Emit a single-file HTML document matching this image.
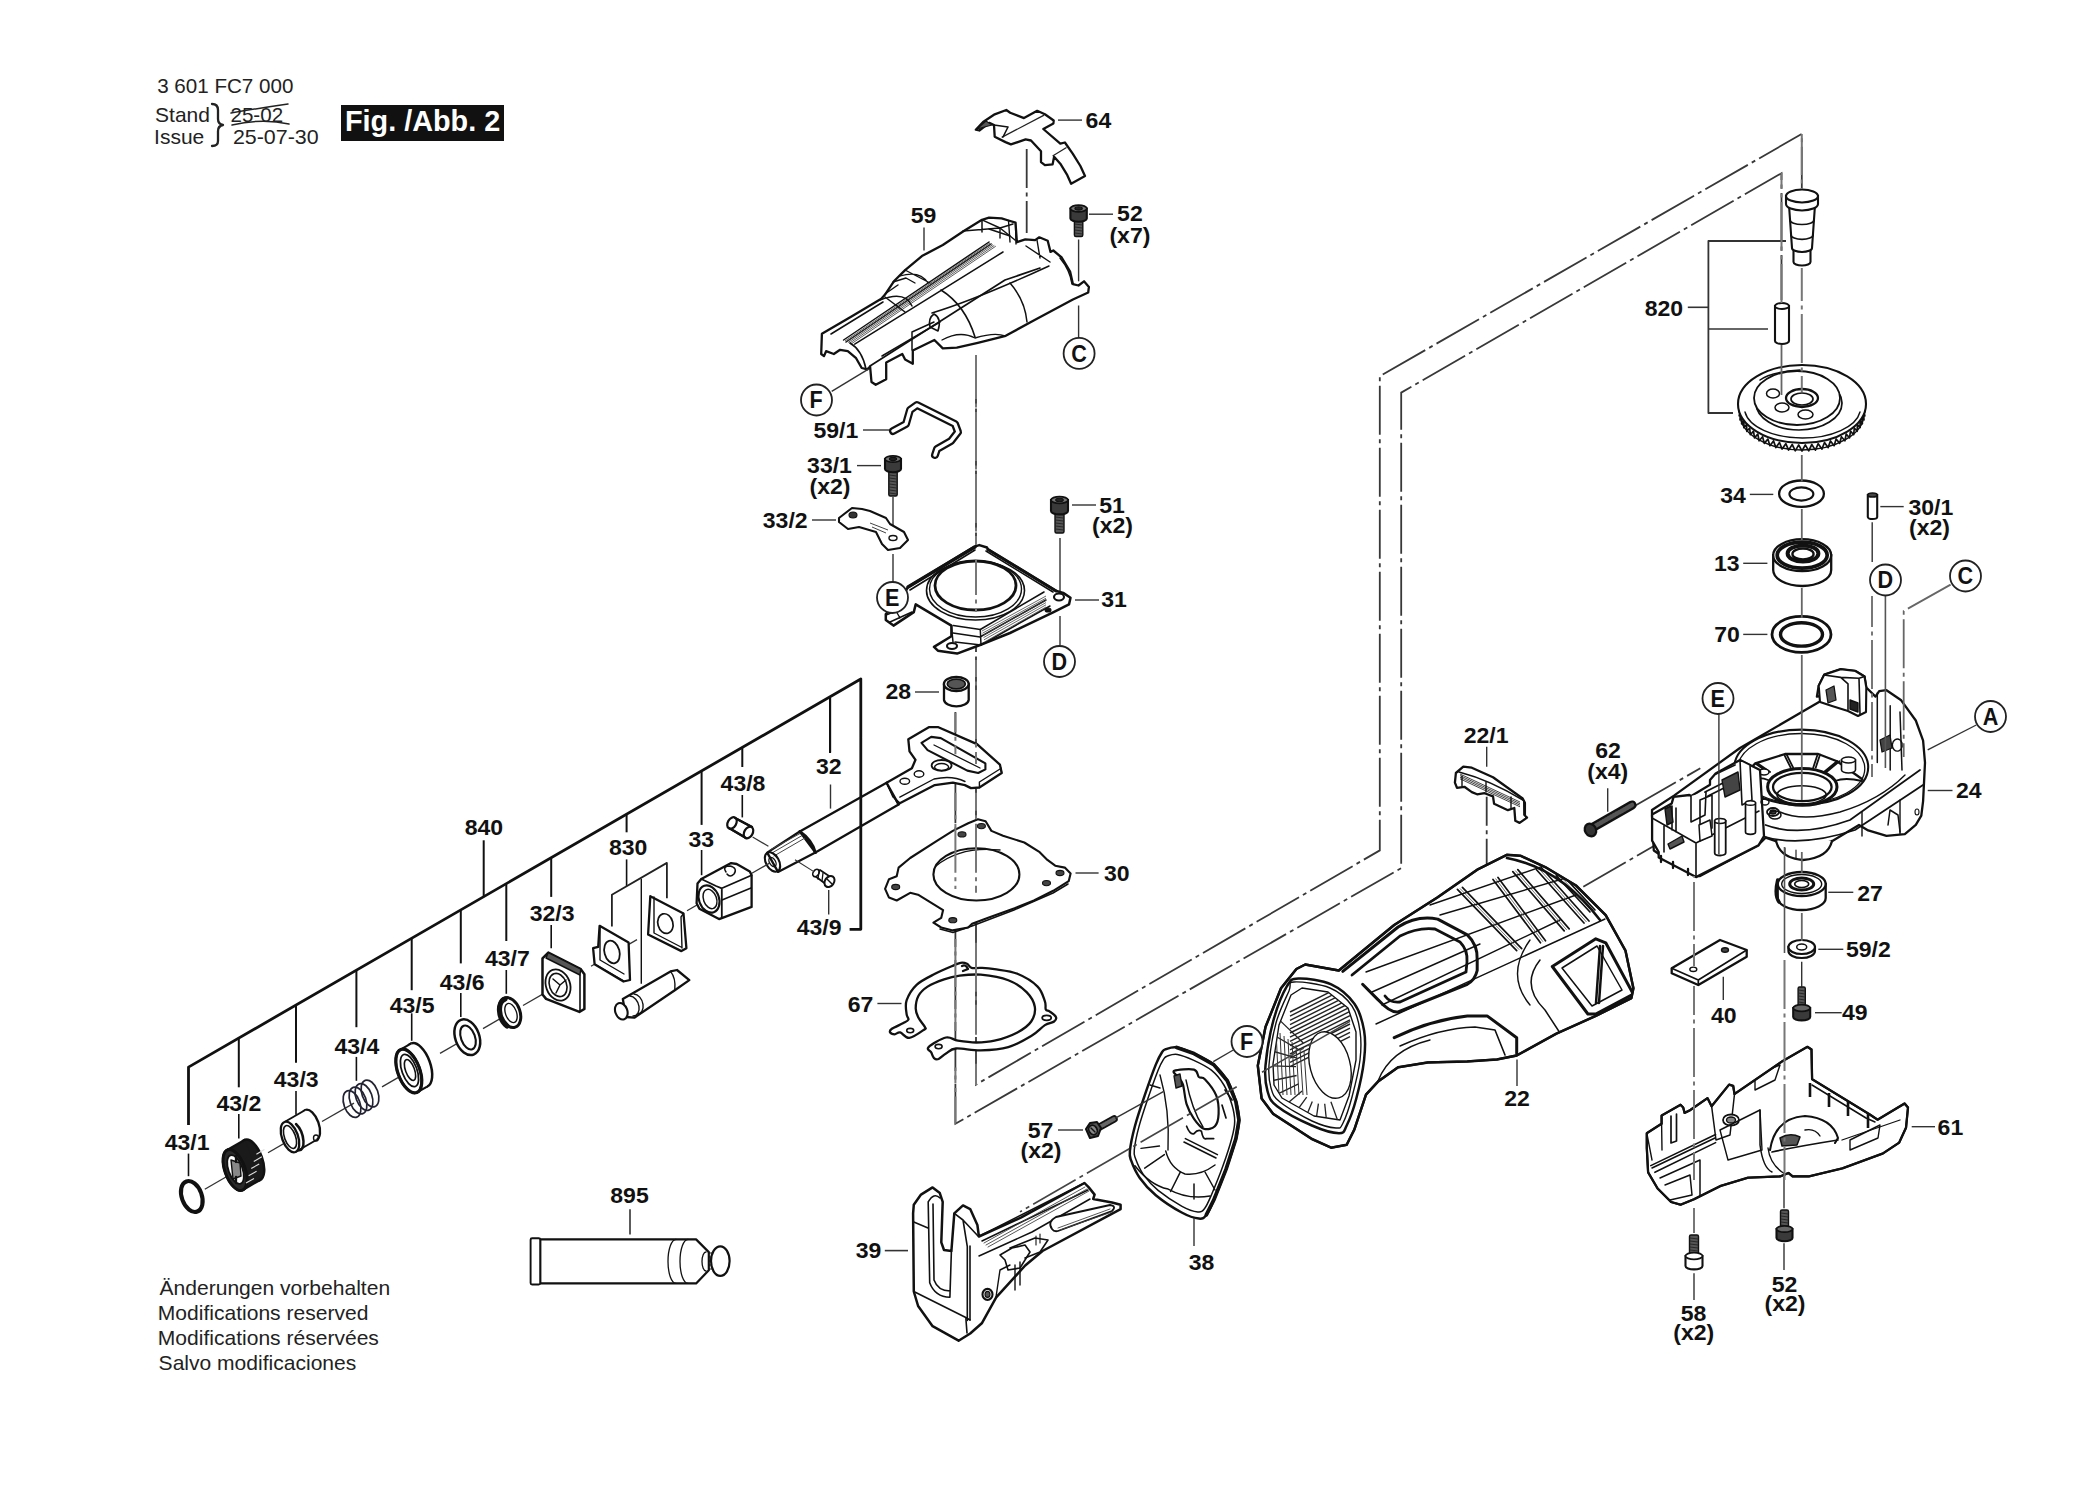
<!DOCTYPE html>
<html><head><meta charset="utf-8"><style>html,body{margin:0;padding:0;background:#fff;}svg{display:block}</style></head>
<body><svg width="2074" height="1501" viewBox="0 0 2074 1501">
<rect width="2074" height="1501" fill="#fff"/>
<path d="M976,355 L976,1084.6 L1379.8,850.4 L1379.8,376.2 L1801.8,133.9 L1801.8,190" stroke="#383838" stroke-width="1.8" fill="none" stroke-dasharray="49 4.5 4 4.5" stroke-dashoffset="0"/>
<path d="M955.4,712 L955.4,1123.8 L1401.2,868.1 L1401.2,392.6 L1781.5,173.2 L1781.5,300" stroke="#383838" stroke-width="1.8" fill="none" stroke-dasharray="49 4.5 4 4.5" stroke-dashoffset="0"/>
<path d="M1583.3,886.7 L1700.3,819.1" stroke="#383838" stroke-width="1.8" fill="none" stroke-dasharray="49 4.5 4 4.5" stroke-dashoffset="0"/>
<path d="M1633.3,806.7 L1700.3,768.3" stroke="#383838" stroke-width="1.8" fill="none" stroke-dasharray="49 4.5 4 4.5" stroke-dashoffset="0"/>
<path d="M893,431 L906,424 L910,410 L917,405 L955,424 L958,432 L951,441 L937,449 L935,455" stroke="#111" stroke-width="8" fill="none" stroke-linejoin="round" stroke-linecap="round"/>
<path d="M893,431 L906,424 L910,410 L917,405 L955,424 L958,432 L951,441 L937,449 L935,455" stroke="#fff" stroke-width="3.5" fill="none" stroke-linejoin="round" stroke-linecap="round"/>
<line x1="863" y1="430" x2="889" y2="430" stroke="#333" stroke-width="1.4"/>
<line x1="857" y1="465.6" x2="881" y2="465.6" stroke="#333" stroke-width="1.4"/>
<rect x="888.8" y="469" width="8.4" height="27" rx="1.5" fill="#555" stroke="#111" stroke-width="1.4"/>
<line x1="889.3" y1="472" x2="896.7" y2="473" stroke="#222" stroke-width="0.9"/>
<line x1="889.3" y1="475" x2="896.7" y2="476" stroke="#222" stroke-width="0.9"/>
<line x1="889.3" y1="478" x2="896.7" y2="479" stroke="#222" stroke-width="0.9"/>
<line x1="889.3" y1="481" x2="896.7" y2="482" stroke="#222" stroke-width="0.9"/>
<line x1="889.3" y1="484" x2="896.7" y2="485" stroke="#222" stroke-width="0.9"/>
<line x1="889.3" y1="487" x2="896.7" y2="488" stroke="#222" stroke-width="0.9"/>
<line x1="889.3" y1="490" x2="896.7" y2="491" stroke="#222" stroke-width="0.9"/>
<line x1="889.3" y1="493" x2="896.7" y2="494" stroke="#222" stroke-width="0.9"/>
<path d="M885,459 L885,469 A8,3.2 0 0,0 901,469 L901,459 Z" fill="#3a3a3a" stroke="#111" stroke-width="2.1"/>
<ellipse cx="893" cy="459" rx="8" ry="3.2" stroke="#111" stroke-width="1.8" fill="#777"/>
<ellipse cx="893" cy="459" rx="3.6" ry="1.6" stroke="#111" stroke-width="1.1" fill="#222"/>
<line x1="893" y1="497" x2="893" y2="540" stroke="#333" stroke-width="1.4"/>
<line x1="893" y1="554" x2="893" y2="582" stroke="#333" stroke-width="1.4"/>
<line x1="812" y1="520" x2="836" y2="520" stroke="#333" stroke-width="1.4"/>
<path d="M839,518 L852,508 L862,509 L870,511 L886,518 L890,524 L904,532 L908,540 L900,548 L888,550 L882,544 L876,532 L859,527 L848,529 L839,522 Z" stroke="#111" stroke-width="2.1" fill="#fff" stroke-linejoin="round"/>
<ellipse cx="853" cy="515" rx="4" ry="3" stroke="#111" stroke-width="1.1" fill="#333"/>
<ellipse cx="893" cy="538" rx="4" ry="2.5" stroke="#111" stroke-width="1.4" fill="none"/>
<line x1="870" y1="523" x2="888" y2="530" stroke="#444" stroke-width="1"/>
<line x1="872" y1="527" x2="886" y2="533" stroke="#444" stroke-width="1"/>
<line x1="1072" y1="505" x2="1096" y2="505" stroke="#333" stroke-width="1.4"/>
<rect x="1055" y="511" width="9" height="22" rx="1.5" fill="#555" stroke="#111" stroke-width="1.4"/>
<line x1="1055.5" y1="514" x2="1063.5" y2="515" stroke="#222" stroke-width="0.9"/>
<line x1="1055.5" y1="517" x2="1063.5" y2="518" stroke="#222" stroke-width="0.9"/>
<line x1="1055.5" y1="520" x2="1063.5" y2="521" stroke="#222" stroke-width="0.9"/>
<line x1="1055.5" y1="523" x2="1063.5" y2="524" stroke="#222" stroke-width="0.9"/>
<line x1="1055.5" y1="526" x2="1063.5" y2="527" stroke="#222" stroke-width="0.9"/>
<line x1="1055.5" y1="529" x2="1063.5" y2="530" stroke="#222" stroke-width="0.9"/>
<path d="M1051,500 L1051,511 A8.5,3.4 0 0,0 1068,511 L1068,500 Z" fill="#3a3a3a" stroke="#111" stroke-width="2.1"/>
<ellipse cx="1059.5" cy="500" rx="8.5" ry="3.4" stroke="#111" stroke-width="1.8" fill="#777"/>
<ellipse cx="1059.5" cy="500" rx="3.8" ry="1.7" stroke="#111" stroke-width="1.1" fill="#222"/>
<line x1="1060" y1="538" x2="1060" y2="592" stroke="#333" stroke-width="1.4"/>
<line x1="1060" y1="616" x2="1060" y2="645" stroke="#333" stroke-width="1.4"/>
<line x1="1075" y1="600" x2="1099" y2="600" stroke="#333" stroke-width="1.4"/>
<path d="M908,587.1 L974.5,546.6 L979.3,545.1 L987,547.5 L988,549.5 L1056.5,591 L1063.2,592.9 L1070.5,597.7 L1069,604.4 L1053.6,612.1 L1010,633 L980,645 L957.1,653.6 L937.9,650.7 L934,646.9 L951.4,636.3 L951.4,625.6 L915.7,604.4 L913.8,612.1 L893.5,625.6 L885.8,619.9 L885.8,614.1 L900,600 Z" stroke="#111" stroke-width="2.5" fill="#fff" stroke-linejoin="round"/>
<path d="M910,590 L975,550 M986,551 L1053,592" stroke="#111" stroke-width="1.6" fill="none" stroke-linejoin="round" stroke-linecap="round" />
<path d="M908,587 L975,547" stroke="#111" stroke-width="3.4" fill="none" stroke-linejoin="round" stroke-linecap="round" />
<path d="M988,549.5 L1056,591" stroke="#111" stroke-width="3" fill="none" stroke-linejoin="round" stroke-linecap="round" />
<ellipse cx="975.5" cy="590.5" rx="49" ry="29.5" stroke="#111" stroke-width="1.6" fill="none"/>
<ellipse cx="975.5" cy="589" rx="46" ry="28" stroke="#111" stroke-width="1.4" fill="none"/>
<ellipse cx="975.5" cy="585.5" rx="40.5" ry="24.5" stroke="#111" stroke-width="2.8" fill="#fff"/>
<path d="M953.3,625.6 L980.3,629.5 L1044,592 M953,633 L980,637 L1046,600 M955,642 L981,645 L1050,606" stroke="#111" stroke-width="1.5" fill="none" stroke-linejoin="round" stroke-linecap="round" />
<line x1="982" y1="631" x2="1046" y2="596" stroke="#444" stroke-width="0.8"/>
<line x1="982.5" y1="633.2" x2="1046" y2="598.2" stroke="#444" stroke-width="0.8"/>
<line x1="983" y1="635.4" x2="1046" y2="600.4" stroke="#444" stroke-width="0.8"/>
<line x1="983.5" y1="637.6" x2="1046" y2="602.6" stroke="#444" stroke-width="0.8"/>
<line x1="984" y1="639.8" x2="1046" y2="604.8" stroke="#444" stroke-width="0.8"/>
<line x1="984.5" y1="642" x2="1046" y2="607" stroke="#444" stroke-width="0.8"/>
<path d="M980.3,629.5 L981,645 M951.4,625.6 L953,642" stroke="#111" stroke-width="1.5" fill="none" stroke-linejoin="round" stroke-linecap="round" />
<ellipse cx="1059" cy="597" rx="5" ry="3.5" stroke="#111" stroke-width="2.1" fill="#fff"/>
<ellipse cx="1048" cy="610" rx="3" ry="2" stroke="#111" stroke-width="1.1" fill="#111"/>
<ellipse cx="952" cy="646" rx="5" ry="3" stroke="#111" stroke-width="2.1" fill="#fff"/>
<path d="M886,615 L896,611 L900,618 M890,622 L912,612" stroke="#111" stroke-width="1.4" fill="none" stroke-linejoin="round" stroke-linecap="round" />
<path d="M975.8,129.7 L983.1,122 L994.7,114.3 L1006.3,110 L1010.2,112.7 L1024,118.1 L1037.2,110.8 L1044.9,114.3 L1053.7,120.5 L1053.4,123.5 L1043.3,129 L1060.3,143.6 L1064.9,142.5 L1072.7,153.6 L1080.4,166 L1085,176 L1071.1,183.7 L1067.3,175.2 L1060.3,163.7 L1054.1,156.7 L1052.6,164.4 L1044.9,165.2 L1041,162.1 L1041,151.3 L1031,140.5 L1025.6,139.4 L1010.9,144.4 L1005.5,142.1 L994.7,136.7 L994,125.1 L989.3,122.8 L979.3,130.5 Z" stroke="#111" stroke-width="2.3" fill="#fff" stroke-linejoin="round"/>
<line x1="1001.7" y1="137.4" x2="1044.1" y2="115.1" stroke="#222" stroke-width="1.3"/>
<line x1="1052.6" y1="156" x2="1066.5" y2="147.5" stroke="#222" stroke-width="1.3"/>
<path d="M977,129 L986,121 L992,125 Z" stroke="#111" stroke-width="1.1" fill="#555" stroke-linejoin="round" stroke-linecap="round" />
<path d="M994,125 L1008,127 L1003,137" stroke="#111" stroke-width="1.6" fill="none" stroke-linejoin="round" stroke-linecap="round" />
<line x1="1058" y1="120.1" x2="1082" y2="120.1" stroke="#333" stroke-width="1.4"/>
<path d="M1026.7,149 L1026.7,233" stroke="#383838" stroke-width="1.8" fill="none" stroke-dasharray="49 4.5 4 4.5" stroke-dashoffset="10"/>
<path d="M821.9,333.7 L821.2,354 L824,356.1 L826.1,351.2 L833.8,354 L840.1,349.8 L847.8,351.2 L856.1,358.2 L861.7,368 L867.3,369.4 L870.1,366.6 L871.5,382 L875.7,384.8 L886.2,379.2 L886.2,362.4 L902.3,354 L905.1,359.6 L912.8,363.8 L912.8,350.5 L934.4,340 L942.8,348.4 L956.8,347.7 L977.8,342.8 L1005.7,335.8 L1033.7,320.5 L1072.9,299.5 L1088.2,292.5 L1088.9,286.9 L1084,281.3 L1078.5,285.5 L1072.9,284.1 L1070.1,271.5 L1061.7,257.5 L1053.3,250.5 L1050.5,251.9 L1047.7,240.8 L1039.3,237.3 L1035.1,240.1 L1025.3,239.4 L1016.9,242.2 L1015.5,222.6 L1008.5,220.5 L1001.6,218.4 L989,217.7 L982,219.8 L963.8,231 L942.8,245 L921.9,256.1 L905.1,270.1 L893.9,281.3 L885.5,293.9 L881.3,298.8 L851.9,316.3 Z" stroke="#111" stroke-width="2.3" fill="#fff" stroke-linejoin="round"/>
<path d="M831,334 L883,302 M843.6,340 L989,242 M846,342 L991,244 M854.7,344.2 L1003,252" stroke="#111" stroke-width="1.5" fill="none" stroke-linejoin="round" stroke-linecap="round" />
<line x1="845" y1="341" x2="990" y2="243" stroke="#333" stroke-width="0.8"/>
<line x1="846.4" y1="341.8" x2="991.4" y2="243.8" stroke="#333" stroke-width="0.8"/>
<line x1="847.9" y1="342.6" x2="992.9" y2="244.6" stroke="#333" stroke-width="0.8"/>
<line x1="849.3" y1="343.4" x2="994.3" y2="245.4" stroke="#333" stroke-width="0.8"/>
<line x1="850.8" y1="344.2" x2="995.8" y2="246.2" stroke="#333" stroke-width="0.8"/>
<path d="M880,300 Q905,290 912,306 M885,297 L905,312" stroke="#111" stroke-width="1.5" fill="none" stroke-linejoin="round" stroke-linecap="round" />
<path d="M963,231 L1000,228 L1015,240 M982,219.8 L982,232" stroke="#111" stroke-width="1.5" fill="none" stroke-linejoin="round" stroke-linecap="round" />
<path d="M866,369 Q862,350 850,343" stroke="#111" stroke-width="1.6" fill="none" stroke-linejoin="round" stroke-linecap="round" />
<path d="M870,366 L1005,280 L1040,268" stroke="#111" stroke-width="1.7" fill="none" stroke-linejoin="round" stroke-linecap="round" />
<path d="M882,356 L940,322 M912,350 L912,332 L934,322" stroke="#111" stroke-width="1.5" fill="none" stroke-linejoin="round" stroke-linecap="round" />
<path d="M938,331 Q942,318 934,314 Q928,318 930,327 Z" stroke="#111" stroke-width="1.6" fill="none" stroke-linejoin="round" stroke-linecap="round" />
<path d="M932,313 Q975,300 1049,266" stroke="#111" stroke-width="1.5" fill="none" stroke-linejoin="round" stroke-linecap="round" />
<path d="M941,290 Q965,305 975,337" stroke="#111" stroke-width="1.6" fill="none" stroke-linejoin="round" stroke-linecap="round" />
<path d="M1010,283 Q1025,300 1027,322" stroke="#111" stroke-width="1.5" fill="none" stroke-linejoin="round" stroke-linecap="round" />
<path d="M942,340 Q960,330 975,338 Q995,332 1005,336" stroke="#111" stroke-width="1.4" fill="none" stroke-linejoin="round" stroke-linecap="round" />
<path d="M885,294 Q895,287 898,285 M893,282 L906,278 L915,283" stroke="#111" stroke-width="1.4" fill="none" stroke-linejoin="round" stroke-linecap="round" />
<path d="M900,276 Q920,270 928,283 M905,270 L930,283" stroke="#111" stroke-width="1.3" fill="none" stroke-linejoin="round" stroke-linecap="round" />
<path d="M982,219.8 L1000,228 L1013,224 M1000,228 L1000,238 M989,229 L1010,236" stroke="#111" stroke-width="1.4" fill="none" stroke-linejoin="round" stroke-linecap="round" />
<path d="M1015.5,222.6 L1016,244 M1008.5,220.5 L1010,242" stroke="#111" stroke-width="1.4" fill="none" stroke-linejoin="round" stroke-linecap="round" />
<path d="M1026,246 L1050,262 M1037,240 L1040,258" stroke="#111" stroke-width="1.4" fill="none" stroke-linejoin="round" stroke-linecap="round" />
<path d="M1060,258 Q1070,270 1072,284" stroke="#111" stroke-width="1.5" fill="none" stroke-linejoin="round" stroke-linecap="round" />
<line x1="924" y1="227.4" x2="924" y2="250.5" stroke="#333" stroke-width="1.4"/>
<line x1="831.7" y1="391.3" x2="868" y2="369.3" stroke="#333" stroke-width="1.4"/>
<rect x="1074.4" y="218.5" width="8.4" height="18" rx="1.5" fill="#555" stroke="#111" stroke-width="1.4"/>
<line x1="1074.9" y1="221" x2="1082.3" y2="222" stroke="#222" stroke-width="0.9"/>
<line x1="1074.9" y1="224" x2="1082.3" y2="225" stroke="#222" stroke-width="0.9"/>
<line x1="1074.9" y1="227" x2="1082.3" y2="228" stroke="#222" stroke-width="0.9"/>
<line x1="1074.9" y1="230" x2="1082.3" y2="231" stroke="#222" stroke-width="0.9"/>
<line x1="1074.9" y1="233" x2="1082.3" y2="234" stroke="#222" stroke-width="0.9"/>
<path d="M1070.4,208.5 L1070.4,218.5 A8.2,3.3 0 0,0 1086.8,218.5 L1086.8,208.5 Z" fill="#3a3a3a" stroke="#111" stroke-width="2.1"/>
<ellipse cx="1078.6" cy="208.5" rx="8.2" ry="3.3" stroke="#111" stroke-width="1.8" fill="#777"/>
<ellipse cx="1078.6" cy="208.5" rx="3.7" ry="1.6" stroke="#111" stroke-width="1.1" fill="#222"/>
<line x1="1089" y1="214.2" x2="1113" y2="214.2" stroke="#333" stroke-width="1.4"/>
<line x1="1078.6" y1="239.5" x2="1078.6" y2="281.3" stroke="#333" stroke-width="1.4"/>
<line x1="1078.6" y1="305.5" x2="1078.6" y2="338.5" stroke="#333" stroke-width="1.4"/>
<path d="M885.1,888.9 L889,879.2 L896.7,876.3 L898.6,867.6 L910.2,858 L937.3,840.6 L952.8,830.9 L968.2,823.2 L977.9,819.3 L985.6,821.3 L991.4,830.9 L1003,835.7 L1024.3,842.5 L1039.7,852.2 L1047.4,859.9 L1055.2,865.7 L1064.8,867.6 L1070.6,873.4 L1068.7,881.2 L1053.2,890.8 L1033.9,900.5 L1014.6,908.2 L987.5,917.9 L972.1,923.7 L968.2,927.5 L952.8,930.4 L941.2,927.5 L933.4,922.7 L941.2,917.9 L943.1,910.1 L918,894.7 L910.2,892.8 L896.7,900.5 L889,897.6 Z" stroke="#111" stroke-width="2.1" fill="#fff" stroke-linejoin="round"/>
<path d="M1068,884 L1053,893 L1014,910 L972,926 L953,932.5 L940,929" stroke="#111" stroke-width="1.5" fill="none" stroke-linejoin="round" stroke-linecap="round" />
<ellipse cx="976.4" cy="874.4" rx="43" ry="26.1" stroke="#111" stroke-width="2.1" fill="none"/>
<path d="M936,866 Q960,846 1000,850" stroke="#111" stroke-width="1.4" fill="none" stroke-linejoin="round" stroke-linecap="round" />
<ellipse cx="895.7" cy="887" rx="4" ry="2.6" stroke="#111" stroke-width="1.1" fill="#444"/>
<ellipse cx="952.8" cy="920.2" rx="4" ry="2.6" stroke="#111" stroke-width="1.1" fill="#444"/>
<ellipse cx="1046.5" cy="883.1" rx="4" ry="2.6" stroke="#111" stroke-width="1.1" fill="#444"/>
<ellipse cx="1060" cy="873" rx="4" ry="2.6" stroke="#111" stroke-width="1.1" fill="#444"/>
<ellipse cx="962" cy="834.4" rx="4" ry="2.6" stroke="#111" stroke-width="1.1" fill="#444"/>
<ellipse cx="981.4" cy="826.1" rx="4" ry="2.6" stroke="#111" stroke-width="1.1" fill="#444"/>
<line x1="1075.5" y1="873" x2="1098.6" y2="873" stroke="#333" stroke-width="1.4"/>
<path d="M953.3,965.6 C949.0,967.4 941.1,970.6 935.0,973.8 C928.9,977.0 921.3,980.4 916.6,984.8 C911.9,989.2 908.3,995.5 906.6,1000.4 C904.9,1005.3 906.3,1010.9 906.6,1014.1 C906.9,1017.3 909.0,1018.1 908.4,1019.6 C907.8,1021.1 905.6,1021.8 902.9,1023.3 C900.1,1024.8 894.0,1027.3 891.9,1028.8 C889.8,1030.3 889.6,1031.5 890.1,1032.4 C890.6,1033.3 893.0,1034.3 894.7,1034.3 C896.4,1034.3 897.8,1031.8 900.2,1032.4 C902.6,1033.0 905.3,1038.4 909.3,1037.9 C913.3,1037.5 921.4,1031.5 924.0,1029.7 C926.6,1027.9 925.8,1029.0 924.9,1027.0 C924.0,1025.0 920.0,1020.9 918.5,1017.8 C917.0,1014.7 915.7,1012.3 915.7,1008.6 C915.7,1004.9 916.5,999.5 918.5,995.8 C920.5,992.1 923.3,989.4 927.6,986.6 C931.9,983.9 938.8,981.1 944.1,979.3 C949.5,977.5 953.6,976.5 959.7,975.7 C965.8,974.9 972.7,974.0 980.8,974.7 C988.9,975.5 1000.7,977.3 1008.3,980.2 C1015.9,983.1 1022.2,987.7 1026.6,992.1 C1031.0,996.5 1034.0,1001.9 1034.8,1006.8 C1035.6,1011.7 1034.1,1017.2 1031.2,1021.5 C1028.3,1025.8 1023.5,1029.2 1017.4,1032.4 C1011.3,1035.6 1001.4,1039.0 994.5,1040.7 C987.6,1042.4 982.3,1042.5 976.2,1042.5 C970.1,1042.5 962.9,1041.5 957.9,1040.7 C952.9,1039.9 950.9,1036.4 946.0,1037.5 C941.1,1038.6 931.1,1044.6 928.6,1047.1 C926.1,1049.6 930.4,1050.8 931.3,1052.6 C932.2,1054.4 932.8,1057.0 934.0,1058.1 C935.2,1059.2 936.6,1059.8 938.6,1059.0 C940.6,1058.2 943.1,1055.2 946.0,1053.5 C948.9,1051.8 950.2,1049.0 956.0,1048.5 C961.8,1048.0 972.1,1050.5 980.8,1050.3 C989.5,1050.1 999.9,1049.5 1008.3,1047.1 C1016.7,1044.7 1025.1,1039.8 1031.2,1036.1 C1037.3,1032.4 1041.1,1027.5 1044.9,1025.1 C1048.7,1022.7 1052.3,1022.9 1054.1,1021.5 C1055.9,1020.1 1056.7,1018.6 1055.9,1016.9 C1055.1,1015.2 1051.2,1012.6 1049.5,1011.4 C1047.8,1010.2 1046.6,1011.2 1045.8,1009.5 C1045.0,1007.8 1046.3,1005.1 1044.9,1001.3 C1043.5,997.5 1042.2,991.2 1037.6,986.6 C1033.0,982.0 1024.6,976.7 1017.4,973.8 C1010.2,970.9 1000.6,970.2 994.5,969.2 C988.4,968.2 984.6,968.1 980.8,967.9 C977.0,967.7 973.9,968.6 971.6,967.9 C969.3,967.2 968.8,964.6 967.0,963.7 C965.2,962.9 962.9,962.5 960.6,962.8 C958.3,963.1 957.6,963.8 953.3,965.6 Z" stroke="#111" stroke-width="2.3" fill="#fff" stroke-linejoin="round" stroke-linecap="round" />
<ellipse cx="910.2" cy="1030.6" rx="3.5" ry="2.2" stroke="#111" stroke-width="1.6" fill="none"/>
<ellipse cx="938.6" cy="1046.6" rx="3.5" ry="2.2" stroke="#111" stroke-width="1.6" fill="none"/>
<ellipse cx="1046.7" cy="1017.8" rx="4.5" ry="2.5" stroke="#111" stroke-width="1.8" fill="none"/>
<path d="M962,966 Q966,964 968,969 L963,971" stroke="#111" stroke-width="2.3" fill="none" stroke-linejoin="round" stroke-linecap="round" />
<line x1="877.4" y1="1003.5" x2="901.5" y2="1003.5" stroke="#333" stroke-width="1.4"/>
<path d="M944,684 L944,700 A12.4,7 0 0,0 968.7,700 L968.7,684" stroke="#111" stroke-width="2.3" fill="#fff" stroke-linejoin="round" stroke-linecap="round" />
<ellipse cx="956.3" cy="684" rx="12.4" ry="7" stroke="#111" stroke-width="2.3" fill="#fff"/>
<ellipse cx="956.3" cy="684" rx="9" ry="4.8" stroke="#111" stroke-width="1.7" fill="#555"/>
<line x1="915" y1="692" x2="939" y2="692" stroke="#333" stroke-width="1.4"/>
<path d="M799.8,831.5 L886.6,782.7 L898.6,804.4 L815.4,852.6 Z" stroke="#111" stroke-width="2.3" fill="#fff" stroke-linejoin="round"/>
<path d="M767.2,852.6 L799.8,831.5 L815.4,852.6 L778,871.9 Z" stroke="#111" stroke-width="2.3" fill="#fff" stroke-linejoin="round"/>
<path d="M770,850 L801,833 M772,853 L803,835 M774,856 L805,838" stroke="#444" stroke-width="1" fill="none" stroke-linejoin="round" stroke-linecap="round" />
<path d="M799.8,831.5 Q812,840 815.4,852.6" stroke="#111" stroke-width="2.9" fill="none" stroke-linejoin="round" stroke-linecap="round" />
<ellipse cx="772.5" cy="862" rx="6.5" ry="10.5" stroke="#111" stroke-width="2.1" fill="none" transform="rotate(-30 772.5 862)"/>
<ellipse cx="772.5" cy="862" rx="3" ry="5" stroke="#111" stroke-width="1.4" fill="none" transform="rotate(-30 772.5 862)"/>
<path d="M886.6,782.7 L911.9,768.2 L915.5,759.8 L909.5,751.3 L908.3,739.3 L928.8,727.2 L938.4,727.2 L977,744.1 L999.9,764.6 L1001.7,773 L979.4,787.5 L971,788.1 L964.9,785.1 L952.9,782.7 L934.8,785.1 L899.8,803.2 L898.6,804.4 Z" stroke="#111" stroke-width="2.3" fill="#fff" stroke-linejoin="round"/>
<path d="M921.5,742.9 L931.2,736.9 L940.8,738.1 L985.4,763.4 L985.4,769.4 L978.2,773 L967.3,770.6 L927.6,750.1 Z" stroke="#111" stroke-width="2.1" fill="none" stroke-linejoin="round" stroke-linecap="round" />
<path d="M934,745 L980,768" stroke="#111" stroke-width="1.3" fill="none" stroke-linejoin="round" stroke-linecap="round" />
<ellipse cx="941.6" cy="765.4" rx="10" ry="5.4" stroke="#111" stroke-width="1.8" fill="none"/>
<ellipse cx="941.6" cy="767" rx="7" ry="3.5" stroke="#111" stroke-width="1.4" fill="none"/>
<ellipse cx="904.8" cy="781.3" rx="4.8" ry="3" stroke="#111" stroke-width="1.4" fill="none"/>
<ellipse cx="919" cy="774" rx="4.8" ry="3.2" stroke="#111" stroke-width="1.4" fill="none"/>
<path d="M899.8,797.1 L934,779 Q952,775 965,781.5 M1001.7,773 L1001,768 M979.4,787.5 L979.4,782 L1000,769" stroke="#111" stroke-width="1.4" fill="none" stroke-linejoin="round" stroke-linecap="round" />
<path d="M888,786 L893,797 L900,803" stroke="#111" stroke-width="1.6" fill="none" stroke-linejoin="round" stroke-linecap="round" />
<path d="M815,876 L820,870 L832,878 L827,885 Z" stroke="#111" stroke-width="1.8" fill="#fff" stroke-linejoin="round" stroke-linecap="round" />
<ellipse cx="816" cy="873" rx="2.8" ry="4" stroke="#111" stroke-width="1.6" fill="#fff" transform="rotate(35 816 873)"/>
<path d="M819,871 L818,879 M823,873 L822,881" stroke="#111" stroke-width="1.3" fill="none" stroke-linejoin="round" stroke-linecap="round" />
<ellipse cx="829.5" cy="881.5" rx="4.5" ry="6" stroke="#111" stroke-width="2" fill="#fff" transform="rotate(35 829.5 881.5)"/>
<path d="M827,879 L832,884" stroke="#111" stroke-width="1.4" fill="none" stroke-linejoin="round" stroke-linecap="round" />
<line x1="795" y1="859.8" x2="814.2" y2="871.9" stroke="#333" stroke-width="1.1"/>
<line x1="828.7" y1="890" x2="828.7" y2="914.4" stroke="#333" stroke-width="1.4"/>
<line x1="830.5" y1="698" x2="830.5" y2="752.5" stroke="#333" stroke-width="1.4"/>
<line x1="830.5" y1="784.5" x2="830.5" y2="808.6" stroke="#333" stroke-width="1.4"/>
<line x1="204.8" y1="1189.2" x2="232" y2="1173.5" stroke="#333" stroke-width="1.3"/>
<line x1="268" y1="1152.7" x2="294.5" y2="1137.4" stroke="#333" stroke-width="1.3"/>
<line x1="322" y1="1121.5" x2="354" y2="1103.1" stroke="#333" stroke-width="1.3"/>
<line x1="382" y1="1086.9" x2="414" y2="1068.4" stroke="#333" stroke-width="1.3"/>
<line x1="440" y1="1053.4" x2="465" y2="1039" stroke="#333" stroke-width="1.3"/>
<line x1="483" y1="1028.6" x2="508.5" y2="1013.8" stroke="#333" stroke-width="1.3"/>
<line x1="523" y1="1005.5" x2="554" y2="987.6" stroke="#333" stroke-width="1.3"/>
<line x1="591" y1="966.2" x2="637" y2="939.6" stroke="#333" stroke-width="1.3"/>
<line x1="687" y1="910.8" x2="715" y2="894.6" stroke="#333" stroke-width="1.3"/>
<line x1="751" y1="873.8" x2="770" y2="862.9" stroke="#333" stroke-width="1.3"/>
<line x1="238.8" y1="1038.1" x2="238.8" y2="1087.3" stroke="#111" stroke-width="2.0"/>
<line x1="238.8" y1="1114" x2="238.8" y2="1138.6" stroke="#111" stroke-width="1.6"/>
<line x1="296" y1="1005" x2="296" y2="1062.7" stroke="#111" stroke-width="2.0"/>
<line x1="296" y1="1090.9" x2="296" y2="1114.7" stroke="#111" stroke-width="1.6"/>
<line x1="356.4" y1="970.2" x2="356.4" y2="1027.2" stroke="#111" stroke-width="2.0"/>
<line x1="356.4" y1="1056.9" x2="356.4" y2="1080.8" stroke="#111" stroke-width="1.6"/>
<line x1="411.7" y1="938.2" x2="411.7" y2="990.2" stroke="#111" stroke-width="2.0"/>
<line x1="411.7" y1="1013.3" x2="411.7" y2="1040.8" stroke="#111" stroke-width="1.6"/>
<line x1="460.8" y1="909.9" x2="460.8" y2="963.4" stroke="#111" stroke-width="2.0"/>
<line x1="460.8" y1="993" x2="460.8" y2="1017" stroke="#111" stroke-width="1.6"/>
<line x1="506.3" y1="883.6" x2="506.3" y2="941" stroke="#111" stroke-width="2.0"/>
<line x1="506.3" y1="970" x2="506.3" y2="993.8" stroke="#111" stroke-width="1.6"/>
<line x1="551.2" y1="857.7" x2="551.2" y2="896.9" stroke="#111" stroke-width="2.0"/>
<line x1="551.2" y1="925.1" x2="551.2" y2="948.2" stroke="#111" stroke-width="1.6"/>
<line x1="483.7" y1="840.3" x2="483.7" y2="896.7" stroke="#111" stroke-width="2.0"/>
<line x1="626.6" y1="814.1" x2="626.6" y2="832.3" stroke="#111" stroke-width="2.0"/>
<line x1="626.6" y1="859.4" x2="626.6" y2="886" stroke="#111" stroke-width="1.6"/>
<line x1="188.5" y1="1153.6" x2="188.5" y2="1176.2" stroke="#111" stroke-width="1.6"/>
<path d="M611.9,926.5 L611.9,894.7 L666.9,862.9 L666.9,898.3" stroke="#222" stroke-width="1.8" fill="none" stroke-linejoin="round"/>
<line x1="641.3" y1="878.8" x2="641.3" y2="983.7" stroke="#111" stroke-width="1.4"/>
<line x1="701.6" y1="770.8" x2="701.6" y2="824.9" stroke="#111" stroke-width="2.0"/>
<line x1="701.6" y1="850" x2="701.6" y2="875.2" stroke="#111" stroke-width="1.6"/>
<line x1="742.3" y1="747.3" x2="742.3" y2="767" stroke="#111" stroke-width="2.0"/>
<line x1="742.3" y1="795" x2="742.3" y2="817.4" stroke="#111" stroke-width="1.6"/>
<line x1="830" y1="696.7" x2="830" y2="753" stroke="#111" stroke-width="2.0"/>
<ellipse cx="191.8" cy="1196.5" rx="10" ry="16" stroke="#111" stroke-width="4.1" fill="none" transform="rotate(-20 191.8 1196.5)"/>
<ellipse cx="252.3" cy="1160" rx="10" ry="21.5" stroke="#111" stroke-width="2.5" fill="#1a1a1a" transform="rotate(-20 252.3 1160)"/>
<path d="M227.6,1149.8 L245,1139.8 L259.7,1180.2 L242.4,1190.2 Z" fill="#1a1a1a" stroke="none"/>
<line x1="227.6" y1="1149.8" x2="245" y2="1139.8" stroke="#111" stroke-width="2.2"/>
<line x1="242.4" y1="1190.2" x2="259.7" y2="1180.2" stroke="#111" stroke-width="2.2"/>
<ellipse cx="235" cy="1170" rx="10" ry="21.5" stroke="#111" stroke-width="2.5" fill="#fff" transform="rotate(-20 235 1170)"/>
<ellipse cx="235" cy="1170" rx="10" ry="21.5" stroke="#111" stroke-width="3" fill="#2a2a2a" transform="rotate(-20 235 1170)"/>
<ellipse cx="235.5" cy="1169.5" rx="7" ry="15" stroke="#111" stroke-width="1.8" fill="#fff" transform="rotate(-20 235.5 1169.5)"/>
<path d="M231,1160 L240,1163 L241,1176 L233,1179 Z" stroke="#111" stroke-width="1.4" fill="#888" stroke-linejoin="round" stroke-linecap="round" />
<path d="M236,1156 L236,1162 M236,1177 L236,1183" stroke="#111" stroke-width="2.3" fill="none" stroke-linejoin="round" stroke-linecap="round" />
<line x1="246" y1="1183" x2="254" y2="1178.4" stroke="#ddd" stroke-width="1.1"/>
<line x1="248.6" y1="1175.8" x2="256.6" y2="1171.2" stroke="#ddd" stroke-width="1.1"/>
<line x1="251.2" y1="1168.6" x2="259.2" y2="1164" stroke="#ddd" stroke-width="1.1"/>
<line x1="253.8" y1="1161.4" x2="261.8" y2="1156.8" stroke="#ddd" stroke-width="1.1"/>
<line x1="256.4" y1="1154.2" x2="264.4" y2="1149.6" stroke="#ddd" stroke-width="1.1"/>
<ellipse cx="310.8" cy="1125" rx="8" ry="16" stroke="#111" stroke-width="2.3" fill="#fff" transform="rotate(-20 310.8 1125)"/>
<path d="M284.5,1122 L305.3,1110 L316.3,1140 L295.5,1152 Z" fill="#fff" stroke="none"/>
<line x1="284.5" y1="1122" x2="305.3" y2="1110" stroke="#111" stroke-width="2"/>
<line x1="295.5" y1="1152" x2="316.3" y2="1140" stroke="#111" stroke-width="2"/>
<ellipse cx="290" cy="1137" rx="8" ry="16" stroke="#111" stroke-width="2.3" fill="#fff" transform="rotate(-20 290 1137)"/>
<ellipse cx="290" cy="1137" rx="5.5" ry="12" stroke="#111" stroke-width="1.6" fill="none" transform="rotate(-20 290 1137)"/>
<path d="M296,1124 A7,15 -20 0,1 298,1150" stroke="#111" stroke-width="2.5" fill="none" stroke-linejoin="round" stroke-linecap="round" />
<ellipse cx="316" cy="1138" rx="2.5" ry="3" stroke="#111" stroke-width="1.4" fill="none"/>
<ellipse cx="352" cy="1104" rx="8" ry="14" stroke="#223" stroke-width="1.7" fill="none" transform="rotate(-20 352 1104)"/>
<ellipse cx="358" cy="1100.5" rx="8" ry="14" stroke="#223" stroke-width="1.7" fill="none" transform="rotate(-20 358 1100.5)"/>
<ellipse cx="364" cy="1097" rx="8" ry="14" stroke="#223" stroke-width="1.7" fill="none" transform="rotate(-20 364 1097)"/>
<ellipse cx="370" cy="1093.5" rx="8" ry="14" stroke="#223" stroke-width="1.7" fill="none" transform="rotate(-20 370 1093.5)"/>
<ellipse cx="419.2" cy="1065" rx="11" ry="23" stroke="#111" stroke-width="2.5" fill="#fff" transform="rotate(-20 419.2 1065)"/>
<path d="M400.9,1049.4 L411.3,1043.4 L427.1,1086.6 L416.7,1092.6 Z" fill="#fff" stroke="none"/>
<line x1="400.9" y1="1049.4" x2="411.3" y2="1043.4" stroke="#111" stroke-width="2.2"/>
<line x1="416.7" y1="1092.6" x2="427.1" y2="1086.6" stroke="#111" stroke-width="2.2"/>
<ellipse cx="408.8" cy="1071" rx="11" ry="23" stroke="#111" stroke-width="2.5" fill="#fff" transform="rotate(-20 408.8 1071)"/>
<ellipse cx="408.8" cy="1071" rx="11" ry="23" stroke="#111" stroke-width="3.2" fill="none" transform="rotate(-20 408.8 1071)"/>
<ellipse cx="409.5" cy="1070.5" rx="7.5" ry="17" stroke="#111" stroke-width="1.8" fill="none" transform="rotate(-20 409.5 1070.5)"/>
<ellipse cx="410" cy="1070" rx="4.5" ry="11" stroke="#111" stroke-width="1.6" fill="none" transform="rotate(-20 410 1070)"/>
<ellipse cx="467.3" cy="1037.2" rx="12" ry="18.5" stroke="#111" stroke-width="2.5" fill="#fff" transform="rotate(-20 467.3 1037.2)"/>
<ellipse cx="468" cy="1037.5" rx="7" ry="12.5" stroke="#111" stroke-width="2.1" fill="#fff" transform="rotate(-20 468 1037.5)"/>
<ellipse cx="510" cy="1012.6" rx="10" ry="15.5" stroke="#111" stroke-width="3" fill="#fff" transform="rotate(-20 510 1012.6)"/>
<path d="M505,999 A10,15.5 -20 0,0 507,1026" stroke="#111" stroke-width="5.2" fill="none" stroke-linejoin="round" stroke-linecap="round" />
<ellipse cx="511" cy="1013" rx="5.5" ry="10" stroke="#111" stroke-width="1.4" fill="#fff" transform="rotate(-20 511 1013)"/>
<path d="M542.5,958.4 L548.3,952.6 L580.8,969.2 L584.4,974.3 L584.4,1009 L579.4,1011.9 L546.1,998.9 L542.5,994.5 Z" stroke="#111" stroke-width="2.5" fill="#fff" stroke-linejoin="round"/>
<path d="M548.3,952.6 L580.8,969.2 L580,975 L546,958 Z" stroke="#111" stroke-width="1.4" fill="#555" stroke-linejoin="round" stroke-linecap="round" />
<path d="M580,975 L580,1011" stroke="#111" stroke-width="1.6" fill="none" stroke-linejoin="round" stroke-linecap="round" />
<ellipse cx="558" cy="985" rx="12" ry="16" stroke="#111" stroke-width="1.8" fill="none" transform="rotate(-20 558 985)"/>
<ellipse cx="558" cy="985" rx="8.5" ry="12" stroke="#111" stroke-width="1.6" fill="none" transform="rotate(-20 558 985)"/>
<path d="M553,979 L560,985 L556,993 M560,985 L566,980" stroke="#111" stroke-width="1.5" fill="none" stroke-linejoin="round" stroke-linecap="round" />
<path d="M599.6,925.8 L628.6,942.5 L630,980 L623.5,981.5 L594.6,964.2 L593.1,948.2 L598.2,946.8 Z" stroke="#111" stroke-width="2.3" fill="#fff" stroke-linejoin="round"/>
<ellipse cx="612" cy="952" rx="7.5" ry="11.5" stroke="#111" stroke-width="1.8" fill="none" transform="rotate(-15 612 952)"/>
<path d="M600,927 L600,960 L624,974 M594.6,964 L624,981" stroke="#111" stroke-width="1.4" fill="none" stroke-linejoin="round" stroke-linecap="round" />
<path d="M650.3,896.2 L683.5,913.5 L686.4,948.2 L681.4,951.1 L648.1,934.5 Z" stroke="#111" stroke-width="2.3" fill="#fff" stroke-linejoin="round"/>
<path d="M654,897 L654,933 L681,947 M683.5,913.5 L681,917 L682,948" stroke="#111" stroke-width="1.4" fill="none" stroke-linejoin="round" stroke-linecap="round" />
<ellipse cx="665.4" cy="923.6" rx="7.5" ry="10" stroke="#111" stroke-width="1.7" fill="none" transform="rotate(-15 665.4 923.6)"/>
<path d="M622.8,998.9 L670.5,971.4 L677,970 L689.3,980.1 L674.8,990.2 L634.3,1017.7 L626,1017 Z" stroke="#111" stroke-width="2.3" fill="#fff" stroke-linejoin="round"/>
<ellipse cx="621.3" cy="1011.2" rx="6" ry="8.5" stroke="#111" stroke-width="2.1" fill="#fff" transform="rotate(-20 621.3 1011.2)"/>
<path d="M630,996 A7,10 -20 0,1 633,1016 M634,994 A7,10 -20 0,1 637,1014" stroke="#111" stroke-width="1.4" fill="none" stroke-linejoin="round" stroke-linecap="round" />
<path d="M670.5,971.4 Q676,978 674.8,990.2" stroke="#111" stroke-width="1.4" fill="none" stroke-linejoin="round" stroke-linecap="round" />
<path d="M1786,241 L1708.4,241 L1708.4,413 L1733,413" stroke="#333" stroke-width="1.8" fill="none" stroke-linejoin="round"/>
<line x1="1708.4" y1="329" x2="1768" y2="329" stroke="#333" stroke-width="1.6"/>
<line x1="1687.8" y1="307.3" x2="1708.4" y2="307.3" stroke="#333" stroke-width="1.6"/>
<path d="M1793.5,248 L1793.5,262 A8.5,3.5 0 0,0 1810.5,262 L1810.5,248 Z" fill="#fff" stroke="#111" stroke-width="2.1"/>
<path d="M1789,205 L1792,248 A10,4 0 0,0 1812,248 L1815,205 Z" stroke="#111" stroke-width="2.1" fill="#fff" stroke-linejoin="round" stroke-linecap="round" />
<path d="M1790,220 A12,4.5 0 0,0 1814,220 M1791,235 A11,4.3 0 0,0 1813,235" stroke="#111" stroke-width="1.7" fill="none" stroke-linejoin="round" stroke-linecap="round" />
<path d="M1786,196 L1786,204 A16,6.5 0 0,0 1818,204 L1818,196 Z" fill="#fff" stroke="#111" stroke-width="2.1"/>
<ellipse cx="1802" cy="196" rx="16" ry="6.5" stroke="#111" stroke-width="2.1" fill="#fff"/>
<path d="M1775,306 L1775,341 A7,3 0 0,0 1789,341 L1789,306 Z" fill="#fff" stroke="#111" stroke-width="2.1"/>
<ellipse cx="1782" cy="306" rx="7" ry="3" stroke="#111" stroke-width="1.8" fill="#fff"/>
<path d="M1864.4,407.7 L1863.3,405.9 L1865,411.8 L1863.5,409.7 L1864.8,415.8 L1863,413.6 L1864,419.8 L1861.8,417.4 L1862.4,423.8 L1860,421.1 L1860.2,427.6 L1857.4,424.6 L1857.2,431.3 L1854.3,428 L1853.7,434.7 L1850.5,431.1 L1849.5,437.9 L1846.2,434 L1844.9,440.8 L1841.4,436.7 L1839.7,443.4 L1836.1,439 L1834.1,445.7 L1830.5,440.9 L1828.1,447.6 L1824.5,442.5 L1821.9,449.1 L1818.2,443.7 L1815.4,450.1 L1811.8,444.5 L1808.7,450.8 L1805.3,444.9 L1802,451 L1798.7,444.9 L1795.3,450.8 L1792.2,444.5 L1788.6,450.1 L1785.8,443.7 L1782.1,449.1 L1779.5,442.5 L1775.9,447.6 L1773.5,440.9 L1769.9,445.7 L1767.9,439 L1764.3,443.4 L1762.6,436.7 L1759.1,440.8 L1757.8,434 L1754.5,437.9 L1753.5,431.1 L1750.3,434.7 L1749.7,428 L1746.8,431.3 L1746.6,424.6 L1743.8,427.6 L1744,421.1 L1741.6,423.8 L1742.2,417.4 L1740,419.8 L1741,413.6 L1739.2,415.8 L1740.5,409.7 L1739,411.8 L1740.7,405.9 L1739.6,407.7" stroke="#111" stroke-width="1.7" fill="#fff" stroke-linejoin="round"/>
<path d="M1740,414 A62,36 0 0,0 1864,414" stroke="#111" stroke-width="1.4" fill="none" stroke-linejoin="round" stroke-linecap="round" />
<ellipse cx="1802" cy="404" rx="64" ry="39" stroke="#111" stroke-width="2.1" fill="#fff"/>
<path d="M1745,412 A58,30 0 0,0 1860,412" stroke="#111" stroke-width="1.4" fill="none" stroke-linejoin="round" stroke-linecap="round" />
<path d="M1760,380 Q1770,372 1800,370" stroke="#111" stroke-width="1.5" fill="none" stroke-linejoin="round" stroke-linecap="round" />
<ellipse cx="1799" cy="403" rx="43" ry="27" stroke="#111" stroke-width="1.7" fill="#fff"/>
<ellipse cx="1797" cy="398" rx="43" ry="27" stroke="#111" stroke-width="1.8" fill="#fff"/>
<ellipse cx="1802" cy="398" rx="16" ry="9" stroke="#111" stroke-width="2.3" fill="#fff"/>
<ellipse cx="1802" cy="399" rx="11" ry="6" stroke="#111" stroke-width="1.7" fill="#fff"/>
<ellipse cx="1773" cy="393.5" rx="6.5" ry="4.5" stroke="#111" stroke-width="1.5" fill="none"/>
<ellipse cx="1782" cy="407.5" rx="7" ry="4.5" stroke="#111" stroke-width="1.5" fill="none"/>
<ellipse cx="1805.5" cy="414.5" rx="7.5" ry="4.5" stroke="#111" stroke-width="1.5" fill="none"/>
<ellipse cx="1801.5" cy="493.7" rx="22.4" ry="13.2" stroke="#111" stroke-width="2.3" fill="#fff"/>
<ellipse cx="1801.4" cy="494" rx="12" ry="6.6" stroke="#111" stroke-width="2.1" fill="none"/>
<line x1="1749.8" y1="494.4" x2="1773.3" y2="494.4" stroke="#333" stroke-width="1.4"/>
<path d="M1773.2,555.2 L1773.2,570 A29,16 0 0,0 1831.2,570 L1831.2,555.2 Z" fill="#fff" stroke="#111" stroke-width="2.3"/>
<ellipse cx="1802.2" cy="555.2" rx="29" ry="16" stroke="#111" stroke-width="2.3" fill="#fff"/>
<ellipse cx="1802.2" cy="555.2" rx="25" ry="13" stroke="#111" stroke-width="3.7" fill="none"/>
<ellipse cx="1803" cy="553.5" rx="15.4" ry="8" stroke="#111" stroke-width="4" fill="#fff"/>
<ellipse cx="1803" cy="554" rx="10.6" ry="5.5" stroke="#111" stroke-width="2.3" fill="#fff"/>
<line x1="1743.2" y1="563.3" x2="1767.4" y2="563.3" stroke="#333" stroke-width="1.4"/>
<ellipse cx="1801.5" cy="634.4" rx="29.5" ry="18" stroke="#111" stroke-width="2.8" fill="#fff"/>
<ellipse cx="1801.5" cy="634.4" rx="21" ry="11.7" stroke="#111" stroke-width="3.4" fill="none"/>
<line x1="1743.2" y1="634.4" x2="1767.4" y2="634.4" stroke="#333" stroke-width="1.4"/>
<path d="M1867.8,495 L1867.8,517 A4.7,2 0 0,0 1877.2,517 L1877.2,495 Z" fill="#fff" stroke="#111" stroke-width="2.1"/>
<ellipse cx="1872.5" cy="495" rx="4.7" ry="2" stroke="#111" stroke-width="1.7" fill="#444"/>
<line x1="1880.3" y1="506.6" x2="1903.7" y2="506.6" stroke="#333" stroke-width="1.4"/>
<line x1="1872.2" y1="522.3" x2="1872.2" y2="561.9" stroke="#333" stroke-width="1.4"/>
<path d="M1652,815.7 L1653.8,850.5 L1659.3,854.2 L1694.1,875.3 L1699.6,876.2 L1758.3,845 L1765.6,837.7 L1776.6,841.4 L1794.9,848.7 L1813.2,846 L1831.5,841.4 L1859,824.9 L1868.2,830.4 L1886.5,835.9 L1904.8,834.1 L1915.8,824.9 L1921.3,815.7 L1923.1,801.1 L1925,762.6 L1923.1,740.6 L1915.8,720.5 L1901.2,700.3 L1886.5,690.2 L1879.2,691.1 L1875.5,696.6 L1866.3,687.5 L1864.5,676.5 L1855.4,671 L1840.7,669.2 L1824.2,674.7 L1818.7,685.7 L1816.9,696.6 L1831.5,694.8 L1740,748 L1674,795.6 L1652,810 Z" stroke="#111" stroke-width="2.3" fill="#fff" stroke-linejoin="round"/>
<path d="M1776,841 Q1780,858 1803,860 Q1828,858 1832,841" stroke="#111" stroke-width="2.3" fill="#fff" stroke-linejoin="round" stroke-linecap="round" />
<path d="M1785,848 L1785,855 M1796,850 L1796,858" stroke="#111" stroke-width="1.1" fill="none" stroke-linejoin="round" stroke-linecap="round" />
<ellipse cx="1801.3" cy="767.2" rx="66.9" ry="37.6" stroke="#111" stroke-width="2.1" fill="#fff"/>
<ellipse cx="1801.3" cy="768.5" rx="63.5" ry="35" stroke="#111" stroke-width="1.3" fill="none"/>
<path d="M1740,779.3 L1755.3,763.4 L1785,754 L1818.2,754 L1837,761.2 L1862.3,779.3" stroke="#111" stroke-width="2.3" fill="none" stroke-linejoin="round" stroke-linecap="round" />
<path d="M1742,781 Q1760,776 1768,780 M1862,781 Q1845,777 1835,781" stroke="#111" stroke-width="1.8" fill="none" stroke-linejoin="round" stroke-linecap="round" />
<path d="M1784.2,754.7 L1790.7,767.7 M1786.7,754.7 L1793.2,767.7" stroke="#111" stroke-width="1.8" fill="none" stroke-linejoin="round" stroke-linecap="round" />
<path d="M1817.5,754.7 L1813.2,767.7 M1820.0,754.7 L1815.7,767.7" stroke="#111" stroke-width="1.8" fill="none" stroke-linejoin="round" stroke-linecap="round" />
<path d="M1755.3,763.4 L1767.6,772 M1757.8,763.4 L1770.1,772" stroke="#111" stroke-width="1.8" fill="none" stroke-linejoin="round" stroke-linecap="round" />
<path d="M1837,761.2 L1824,772 M1839.5,761.2 L1826.5,772" stroke="#111" stroke-width="1.8" fill="none" stroke-linejoin="round" stroke-linecap="round" />
<path d="M1841.5,760 L1841.5,770 A7,3 0 0,0 1855.5,770 L1855.5,760 Z" fill="#fff" stroke="#111" stroke-width="1.6"/>
<ellipse cx="1848.5" cy="760" rx="7" ry="3" stroke="#111" stroke-width="1.5" fill="#fff"/>
<ellipse cx="1764" cy="772" rx="5" ry="3" stroke="#111" stroke-width="1.5" fill="#fff"/>
<ellipse cx="1802.3" cy="786.9" rx="34.7" ry="18.4" stroke="#111" stroke-width="3" fill="#fff"/>
<ellipse cx="1802.3" cy="787" rx="29.3" ry="14.1" stroke="#111" stroke-width="2.3" fill="#fff"/>
<ellipse cx="1801.6" cy="794.8" rx="24.6" ry="9" stroke="#111" stroke-width="1.6" fill="none"/>
<path d="M1765.6,825 Q1800,838 1850,820 L1920,770 M1762,836 Q1800,848 1855,830 L1923,785" stroke="#111" stroke-width="1.8" fill="none" stroke-linejoin="round" stroke-linecap="round" />
<path d="M1780,812 Q1802,822 1840,812 Q1880,800 1905,775" stroke="#111" stroke-width="1.4" fill="none" stroke-linejoin="round" stroke-linecap="round" />
<path d="M1862,836 L1862,812 M1900,834 L1900,800" stroke="#111" stroke-width="1.4" fill="none" stroke-linejoin="round" stroke-linecap="round" />
<path d="M1652.1,814.6 L1671.7,803.4 L1673.6,796.9 L1689.4,795 L1691.3,796 L1710,784.8 L1710,780.1 L1715.6,773.6 L1740,760 L1760,770 L1764,836 L1758.5,845.4 L1696,877.1 L1658.7,857.5 L1658.7,852 L1652.1,840.7 Z" stroke="#111" stroke-width="2.3" fill="#fff" stroke-linejoin="round"/>
<path d="M1652.1,818 L1696,843 L1696,877 M1696,843 L1759,811 M1664,826 L1664,852 M1672,806 L1672,830 M1676,808 L1676,832" stroke="#111" stroke-width="1.6" fill="none" stroke-linejoin="round" stroke-linecap="round" />
<path d="M1691,796 L1691,822 L1705,815 L1706,792 M1700,800 L1712,795 L1712,828 L1700,834 Z" stroke="#111" stroke-width="1.6" fill="#fff" stroke-linejoin="round" stroke-linecap="round" />
<path d="M1665,809 L1671,806 L1673,822 L1667,825 Z" stroke="#111" stroke-width="1.4" fill="#333" stroke-linejoin="round" stroke-linecap="round" />
<path d="M1668,844 L1682,836 L1684,842 L1670,849 Z" stroke="#111" stroke-width="1.4" fill="#555" stroke-linejoin="round" stroke-linecap="round" />
<path d="M1699,825 L1710,820 L1712,836 L1700,841 Z" stroke="#111" stroke-width="1.5" fill="#fff" stroke-linejoin="round" stroke-linecap="round" />
<path d="M1740,760 L1750,765 L1752,800 L1742,805 Z" stroke="#111" stroke-width="1.6" fill="#fff" stroke-linejoin="round" stroke-linecap="round" />
<path d="M1705,792 L1725,782 M1708,796 L1728,786 M1716,774 L1735,765" stroke="#111" stroke-width="1.8" fill="none" stroke-linejoin="round" stroke-linecap="round" />
<path d="M1722,780 L1738,772 L1740,790 L1725,797 Z" stroke="#111" stroke-width="1.4" fill="#444" stroke-linejoin="round" stroke-linecap="round" />
<path d="M1714.7,821 L1714.7,853 A5.5,2.5 0 0,0 1725.7,853 L1725.7,821 Z" fill="#fff" stroke="#111" stroke-width="1.8"/>
<ellipse cx="1720.2" cy="821" rx="5.5" ry="2.5" stroke="#111" stroke-width="1.6" fill="#fff"/>
<path d="M1745.5,803 L1745.5,832 A5,2.3 0 0,0 1755.5,832 L1755.5,803 Z" fill="#fff" stroke="#111" stroke-width="1.7"/>
<ellipse cx="1750.5" cy="803" rx="5" ry="2.3" stroke="#111" stroke-width="1.5" fill="#fff"/>
<path d="M1661,862 L1661,856 M1673,868 L1673,862 M1688,875 L1688,869" stroke="#111" stroke-width="2.3" fill="none" stroke-linejoin="round" stroke-linecap="round" />
<ellipse cx="1773" cy="812" rx="6" ry="4" stroke="#111" stroke-width="1.8" fill="#fff"/>
<ellipse cx="1773" cy="812" rx="3" ry="2" stroke="#111" stroke-width="1.4" fill="#333"/>
<path d="M1818.7,685.7 L1824.2,674.7 L1840.7,669.2 L1855.4,671 L1864.5,676.5 L1866.3,687.5 L1866,712 L1858,716 L1848,711 L1832,706 L1820,702 Z" stroke="#111" stroke-width="2.1" fill="#fff" stroke-linejoin="round" stroke-linecap="round" />
<path d="M1840.7,677.4 L1859,678.3 L1864.5,676.5 M1840.7,677.4 L1848,683.8 L1848,709.5 M1859,678.3 L1860,714 M1824,675 L1840.7,677.4" stroke="#111" stroke-width="1.6" fill="none" stroke-linejoin="round" stroke-linecap="round" />
<path d="M1850,700 L1858,703 L1858,712 L1850,709 Z" stroke="#111" stroke-width="1.4" fill="#222" stroke-linejoin="round" stroke-linecap="round" />
<path d="M1826,690 L1834,686 L1836,700 L1828,703 Z" stroke="#111" stroke-width="1.3" fill="#555" stroke-linejoin="round" stroke-linecap="round" />
<path d="M1877.3,693 L1877.3,762.6 M1890.2,705.8 L1890.2,770 M1900,712 L1902,770" stroke="#111" stroke-width="1.5" fill="none" stroke-linejoin="round" stroke-linecap="round" />
<path d="M1880,740 L1890,735 L1892,748 L1882,752 Z" stroke="#111" stroke-width="1.3" fill="#444" stroke-linejoin="round" stroke-linecap="round" />
<path d="M1900,740 A5,6 0 1,0 1901,741" stroke="#111" stroke-width="1.4" fill="none" stroke-linejoin="round" stroke-linecap="round" />
<ellipse cx="1917" cy="812" rx="2" ry="3" stroke="#111" stroke-width="1.1" fill="none"/>
<path d="M1888,825 L1890,810 L1898,815 L1900,832" stroke="#111" stroke-width="1.5" fill="none" stroke-linejoin="round" stroke-linecap="round" />
<ellipse cx="1775" cy="815" rx="6" ry="4" stroke="#111" stroke-width="1.5" fill="none"/>
<ellipse cx="1765" cy="802" rx="4" ry="3" stroke="#111" stroke-width="1.4" fill="none"/>
<line x1="1718.9" y1="713" x2="1718.9" y2="854.2" stroke="#333" stroke-width="1.4"/>
<line x1="1976.3" y1="725" x2="1927.7" y2="749.8" stroke="#333" stroke-width="1.4"/>
<line x1="1927.7" y1="790.5" x2="1952.5" y2="790.5" stroke="#333" stroke-width="1.4"/>
<path d="M1455.9,773 L1463.3,766.7 L1471.8,767.7 L1493,777.3 L1522.7,798.5 L1524.9,802.7 L1524.9,815.5 L1527,817.6 L1519.6,822.9 L1515.3,820.8 L1514.3,808 L1507.9,810.2 L1494.1,803.8 L1493,796.4 L1484.6,793.2 L1477.1,794.3 L1471.8,792.1 L1464.4,786.8 L1457,787.9 L1454.9,782.6 Z" stroke="#111" stroke-width="2.3" fill="#fff" stroke-linejoin="round"/>
<path d="M1459,772 Q1490,780 1523.8,800.6 L1524,815" stroke="#111" stroke-width="1.6" fill="none" stroke-linejoin="round" stroke-linecap="round" />
<line x1="1460" y1="774" x2="1520" y2="802" stroke="#333" stroke-width="0.9"/>
<line x1="1460" y1="775.6" x2="1520" y2="803.6" stroke="#333" stroke-width="0.9"/>
<line x1="1460" y1="777.2" x2="1520" y2="805.2" stroke="#333" stroke-width="0.9"/>
<line x1="1460" y1="778.8" x2="1520" y2="806.8" stroke="#333" stroke-width="0.9"/>
<path d="M1486,782 L1486,792 M1511,797 L1511,808 M1462,776 L1462,786" stroke="#111" stroke-width="1.4" fill="none" stroke-linejoin="round" stroke-linecap="round" />
<line x1="1486.7" y1="746.7" x2="1486.7" y2="766.7" stroke="#333" stroke-width="1.4"/>
<path d="M1486.7,796.7 L1486.7,900" stroke="#383838" stroke-width="1.8" fill="none" stroke-dasharray="49 4.5 4 4.5" stroke-dashoffset="20"/>
<path d="M1590,829 L1632,805" stroke="#111" stroke-width="9.2" fill="none" stroke-linejoin="round" stroke-linecap="round" />
<path d="M1590,829 L1632,805" stroke="#555" stroke-width="4.6" fill="none" stroke-linejoin="round" stroke-linecap="round" stroke-dasharray="1.5 1.5"/>
<ellipse cx="1590.5" cy="830" rx="5.5" ry="6.5" stroke="#111" stroke-width="2.3" fill="#333" transform="rotate(-30 1590.5 830)"/>
<line x1="1607.7" y1="788.3" x2="1607.7" y2="811.7" stroke="#333" stroke-width="1.4"/>
<path d="M1305.2,964.5 L1338.8,970.5 L1394.2,925 L1437.7,897.3 L1477.2,869.7 L1506.9,854.8 L1520.7,855.8 L1546.4,867.7 L1576,885.5 L1605.7,915.1 L1625.5,950.7 L1633.4,988.3 L1631.4,998.1 L1595.8,1015.9 L1556.3,1033.7 L1516.7,1055.5 L1497,1059.4 L1467.3,1061.4 L1427.8,1062.4 L1398.1,1067.3 L1378.4,1081.2 L1366,1094.6 L1354.4,1129.4 L1346.7,1144.8 L1331.2,1147.7 L1311.9,1139 L1273.2,1113.9 L1261.6,1098.5 L1257.8,1065.6 L1265.5,1027 L1281,988.3 L1296.4,969 Z" stroke="#111" stroke-width="2.5" fill="#fff" stroke-linejoin="round"/>
<clipPath id="c22"><path d="M1305.2,964.5 L1338.8,970.5 L1394.2,925 L1437.7,897.3 L1477.2,869.7 L1506.9,854.8 L1520.7,855.8 L1546.4,867.7 L1576,885.5 L1605.7,915.1 L1625.5,950.7 L1633.4,988.3 L1631.4,998.1 L1595.8,1015.9 L1556.3,1033.7 L1516.7,1055.5 L1497,1059.4 L1467.3,1061.4 L1427.8,1062.4 L1398.1,1067.3 L1378.4,1081.2 L1366,1094.6 L1354.4,1129.4 L1346.7,1144.8 L1331.2,1147.7 L1311.9,1139 L1273.2,1113.9 L1261.6,1098.5 L1257.8,1065.6 L1265.5,1027 L1281,988.3 L1296.4,969 Z"/></clipPath><g clip-path="url(#c22)">
<path d="M1342.8,971.4 L1398.1,927 Q1417,915 1437.7,919.1 L1467.3,934.9 Q1478,945 1477.2,960 L1477.2,970.5 Q1475,980 1467.3,984.3 L1398.1,1012 Q1390,1013 1378.4,1000.1 L1362.6,984.3" stroke="#111" stroke-width="3" fill="none" stroke-linejoin="round" stroke-linecap="round" />
<path d="M1352,975 L1400,936 Q1418,927 1435,929 L1460,942 Q1468,950 1467,962 L1466,972 L1400,1002 Q1390,1003 1385,996" stroke="#111" stroke-width="2.8" fill="none" stroke-linejoin="round" stroke-linecap="round" />
<path d="M1372,992 L1480,944 M1382,1005 L1560,920 M1366,972 L1576,895 M1376,1024 L1605,919" stroke="#111" stroke-width="1.4" fill="none" stroke-linejoin="round" stroke-linecap="round" />
<path d="M1457.4,889.4 L1516.7,950.7 M1462.4,887.4 L1521.7,948.7" stroke="#111" stroke-width="1.7" fill="none" stroke-linejoin="round" stroke-linecap="round" />
<line x1="1459.9" y1="888.4" x2="1519.2" y2="949.7" stroke="#555" stroke-width="0.8"/>
<path d="M1493,879.5 L1540.5,942.8 M1498,877.5 L1545.5,940.8" stroke="#111" stroke-width="1.7" fill="none" stroke-linejoin="round" stroke-linecap="round" />
<line x1="1495.5" y1="878.5" x2="1543" y2="941.8" stroke="#555" stroke-width="0.8"/>
<path d="M1512.8,871.6 L1564.2,930.9 M1517.8,869.6 L1569.2,928.9" stroke="#111" stroke-width="1.7" fill="none" stroke-linejoin="round" stroke-linecap="round" />
<line x1="1515.3" y1="870.6" x2="1566.7" y2="929.9" stroke="#555" stroke-width="0.8"/>
<path d="M1536.5,869.7 L1584,923 M1541.5,867.7 L1589,921" stroke="#111" stroke-width="1.7" fill="none" stroke-linejoin="round" stroke-linecap="round" />
<line x1="1539" y1="868.7" x2="1586.5" y2="922" stroke="#555" stroke-width="0.8"/>
<path d="M1556.3,875.6 L1590,912 M1561.3,873.6 L1595,910" stroke="#111" stroke-width="1.7" fill="none" stroke-linejoin="round" stroke-linecap="round" />
<line x1="1558.8" y1="874.6" x2="1592.5" y2="911" stroke="#555" stroke-width="0.8"/>
<path d="M1430,905 L1590,850 M1440,915 L1600,868" stroke="#111" stroke-width="1.4" fill="none" stroke-linejoin="round" stroke-linecap="round" />
<path d="M1506.9,858 Q1560,868 1600,920" stroke="#111" stroke-width="2.5" fill="none" stroke-linejoin="round" stroke-linecap="round" />
<path d="M1552.3,966.5 L1595.8,938.8 L1605.7,942.8 L1633.4,994.2 L1595.8,1014 L1587.9,1014 Z" stroke="#111" stroke-width="3" fill="none" stroke-linejoin="round" stroke-linecap="round" />
<path d="M1562,968 L1597,946 L1622,990 L1592,1006 Z" stroke="#111" stroke-width="1.5" fill="none" stroke-linejoin="round" stroke-linecap="round" />
<path d="M1600,946 L1596,1003 M1603,946 L1599,1003" stroke="#111" stroke-width="2.5" fill="none" stroke-linejoin="round" stroke-linecap="round" />
<path d="M1540,960 Q1520,985 1545,1010 L1560,1033" stroke="#111" stroke-width="1.5" fill="none" stroke-linejoin="round" stroke-linecap="round" />
<path d="M1530,940 Q1505,975 1530,1005" stroke="#111" stroke-width="1.4" fill="none" stroke-linejoin="round" stroke-linecap="round" />
<path d="M1394.2,1037.7 Q1430,1020 1467.3,1015.9 L1487.1,1015.9 L1516.7,1037.7 L1516.7,1053.5" stroke="#111" stroke-width="3" fill="none" stroke-linejoin="round" stroke-linecap="round" />
<path d="M1400,1046 Q1440,1028 1475,1027 L1495,1030 L1505,1055" stroke="#111" stroke-width="1.6" fill="none" stroke-linejoin="round" stroke-linecap="round" />
<path d="M1378,1081 Q1390,1050 1430,1040" stroke="#111" stroke-width="1.4" fill="none" stroke-linejoin="round" stroke-linecap="round" />
<path d="M1298.4,978.6 C1305.8,978.3 1321.9,980.2 1331.2,984.4 C1340.5,988.6 1348.9,996.1 1354.4,1003.8 C1359.9,1011.5 1362.5,1021.5 1364.1,1030.8 C1365.7,1040.1 1365.4,1048.5 1364.1,1059.8 C1362.8,1071.1 1359.2,1087.5 1356.3,1098.5 C1353.4,1109.5 1349.6,1119.7 1346.7,1125.5 C1343.8,1131.3 1344.8,1133.2 1339.0,1133.2 C1333.2,1133.2 1322.2,1130.0 1311.9,1125.5 C1301.6,1121.0 1284.5,1112.0 1277.1,1106.2 C1269.7,1100.4 1269.3,1097.5 1267.4,1090.7 C1265.5,1083.9 1264.5,1077.2 1265.5,1065.6 C1266.5,1054.0 1269.7,1034.4 1273.2,1021.2 C1276.8,1008.0 1282.6,993.5 1286.8,986.4 C1291.0,979.3 1291.0,978.9 1298.4,978.6 Z" stroke="#111" stroke-width="2.5" fill="none" stroke-linejoin="round" stroke-linecap="round" />
<path d="M1302,988 L1328,992 L1348,1008 L1356,1032 L1356,1060 L1349,1096 L1340,1120 L1314,1116 L1282,1098 L1274,1085 L1273,1064 L1279,1025 L1291,995 Z" stroke="#111" stroke-width="1.4" fill="none" stroke-linejoin="round" stroke-linecap="round" />
<clipPath id="cm22"><path d="M1302,988 L1328,992 L1348,1008 L1356,1032 L1356,1060 L1349,1096 L1340,1120 L1314,1116 L1282,1098 L1274,1085 L1273,1064 L1279,1025 L1291,995 Z"/></clipPath><g clip-path="url(#cm22)">
<line x1="1290" y1="1012" x2="1350" y2="982" stroke="#222" stroke-width="1.4"/>
<line x1="1290" y1="1016.2" x2="1350" y2="986.2" stroke="#222" stroke-width="1.4"/>
<line x1="1290" y1="1020.4" x2="1350" y2="990.4" stroke="#222" stroke-width="1.4"/>
<line x1="1290" y1="1024.6" x2="1350" y2="994.6" stroke="#222" stroke-width="1.4"/>
<line x1="1290" y1="1028.8" x2="1350" y2="998.8" stroke="#222" stroke-width="1.4"/>
<line x1="1290" y1="1033" x2="1350" y2="1003" stroke="#222" stroke-width="1.4"/>
<line x1="1290" y1="1037.2" x2="1350" y2="1007.2" stroke="#222" stroke-width="1.4"/>
<line x1="1290" y1="1041.4" x2="1350" y2="1011.4" stroke="#222" stroke-width="1.4"/>
<line x1="1290" y1="1045.6" x2="1350" y2="1015.6" stroke="#222" stroke-width="1.4"/>
<line x1="1290" y1="1049.8" x2="1350" y2="1019.8" stroke="#222" stroke-width="1.4"/>
<line x1="1290" y1="1054" x2="1350" y2="1024" stroke="#222" stroke-width="1.4"/>
<line x1="1290" y1="1058.2" x2="1350" y2="1028.2" stroke="#222" stroke-width="1.4"/>
<line x1="1290" y1="1062.4" x2="1350" y2="1032.4" stroke="#222" stroke-width="1.4"/>
<line x1="1290" y1="1066.6" x2="1350" y2="1036.6" stroke="#222" stroke-width="1.4"/>
<ellipse cx="1330" cy="1065" rx="20" ry="34" fill="#fff" stroke="#111" stroke-width="1.4" transform="rotate(-15 1330 1065)"/>
<line x1="1330.9" y1="1101.8" x2="1342.5" y2="1133.8" stroke="#222" stroke-width="1.3"/>
<line x1="1324.7" y1="1103.8" x2="1328.3" y2="1137.6" stroke="#222" stroke-width="1.3"/>
<line x1="1318.4" y1="1103.6" x2="1313.6" y2="1137.3" stroke="#222" stroke-width="1.3"/>
<line x1="1312.3" y1="1101.4" x2="1299.5" y2="1132.9" stroke="#222" stroke-width="1.3"/>
<line x1="1306.7" y1="1097.1" x2="1286.7" y2="1124.6" stroke="#222" stroke-width="1.3"/>
<line x1="1302.1" y1="1091.1" x2="1276" y2="1113" stroke="#222" stroke-width="1.3"/>
<line x1="1298.6" y1="1083.8" x2="1268.1" y2="1098.7" stroke="#222" stroke-width="1.3"/>
<line x1="1296.6" y1="1075.5" x2="1263.3" y2="1082.6" stroke="#222" stroke-width="1.3"/>
<line x1="1296" y1="1066.7" x2="1262" y2="1065.6" stroke="#222" stroke-width="1.3"/>
<line x1="1297" y1="1058.1" x2="1264.3" y2="1048.7" stroke="#222" stroke-width="1.3"/>
<line x1="1299.5" y1="1050" x2="1270" y2="1033" stroke="#222" stroke-width="1.3"/>
<line x1="1303.3" y1="1043" x2="1278.8" y2="1019.4" stroke="#222" stroke-width="1.3"/>
<line x1="1276" y1="1030" x2="1279" y2="1095" stroke="#333" stroke-width="1"/>
<line x1="1280" y1="1033" x2="1283" y2="1095" stroke="#333" stroke-width="1"/>
<line x1="1284" y1="1036" x2="1287" y2="1095" stroke="#333" stroke-width="1"/>
<line x1="1288" y1="1039" x2="1291" y2="1095" stroke="#333" stroke-width="1"/>
<line x1="1292" y1="1042" x2="1295" y2="1095" stroke="#333" stroke-width="1"/>
<line x1="1296" y1="1045" x2="1299" y2="1095" stroke="#333" stroke-width="1"/>
<line x1="1300" y1="1048" x2="1303" y2="1095" stroke="#333" stroke-width="1"/>
<line x1="1304" y1="1051" x2="1307" y2="1095" stroke="#333" stroke-width="1"/>
</g>
<path d="M1294.0,982.0 C1300.8,981.5 1320.3,984.0 1330.0,988.0 C1339.7,992.0 1347.0,998.8 1352.0,1006.0 C1357.0,1013.2 1358.7,1022.0 1360.0,1031.0 C1361.3,1040.0 1361.3,1049.0 1360.0,1060.0 C1358.7,1071.0 1354.8,1086.5 1352.0,1097.0 C1349.2,1107.5 1345.7,1117.8 1343.0,1123.0 C1340.3,1128.2 1341.2,1128.3 1336.0,1128.0 C1330.8,1127.7 1321.3,1125.3 1312.0,1121.0 C1302.7,1116.7 1286.8,1107.5 1280.0,1102.0 C1273.2,1096.5 1272.8,1094.2 1271.0,1088.0 C1269.2,1081.8 1268.2,1075.8 1269.0,1065.0 C1269.8,1054.2 1272.7,1035.3 1276.0,1023.0 C1279.3,1010.7 1286.0,997.8 1289.0,991.0 C1292.0,984.2 1287.2,982.5 1294.0,982.0 Z" stroke="#111" stroke-width="1.4" fill="none" stroke-linejoin="round" stroke-linecap="round" />
</g>
<path d="M1305.2,964.5 L1338.8,970.5 L1394.2,925 L1437.7,897.3 L1477.2,869.7 L1506.9,854.8 L1520.7,855.8 L1546.4,867.7 L1576,885.5 L1605.7,915.1 L1625.5,950.7 L1633.4,988.3 L1631.4,998.1 L1595.8,1015.9 L1556.3,1033.7 L1516.7,1055.5 L1497,1059.4 L1467.3,1061.4 L1427.8,1062.4 L1398.1,1067.3 L1378.4,1081.2 L1366,1094.6 L1354.4,1129.4 L1346.7,1144.8 L1331.2,1147.7 L1311.9,1139 L1273.2,1113.9 L1261.6,1098.5 L1257.8,1065.6 L1265.5,1027 L1281,988.3 L1296.4,969 Z" fill="none" stroke="#111" stroke-width="2.3" stroke-linejoin="round"/>
<line x1="1517" y1="1059.4" x2="1517" y2="1086" stroke="#333" stroke-width="1.4"/>
<path d="M1165.7,1049.2 C1168.2,1048.4 1172.0,1046.7 1176.7,1047.4 C1181.4,1048.1 1187.8,1050.7 1194.0,1053.6 C1200.2,1056.5 1208.2,1060.1 1213.7,1064.6 C1219.2,1069.1 1223.6,1074.5 1227.3,1080.7 C1231.0,1086.9 1234.0,1095.0 1235.9,1101.6 C1237.9,1108.2 1239.0,1113.9 1239.0,1120.1 C1239.0,1126.3 1238.1,1130.4 1235.9,1138.6 C1233.7,1146.8 1229.7,1159.1 1226.0,1169.4 C1222.3,1179.7 1217.0,1192.6 1213.7,1200.2 C1210.4,1207.8 1208.8,1211.8 1206.3,1214.9 C1203.8,1218.0 1203.0,1219.0 1198.9,1218.6 C1194.8,1218.2 1188.9,1216.4 1181.7,1212.5 C1174.5,1208.6 1162.8,1201.0 1155.8,1195.2 C1148.8,1189.5 1143.9,1183.8 1139.8,1178.0 C1135.7,1172.2 1132.8,1165.2 1131.2,1160.7 C1129.6,1156.2 1129.3,1156.7 1129.9,1150.9 C1130.5,1145.2 1132.4,1135.5 1134.9,1126.2 C1137.4,1117.0 1141.2,1105.7 1144.7,1095.4 C1148.2,1085.1 1152.9,1071.8 1155.8,1064.6 C1158.7,1057.4 1160.3,1054.9 1162.0,1052.3 C1163.7,1049.7 1163.2,1050.0 1165.7,1049.2 Z" stroke="#111" stroke-width="2.5" fill="#fff" stroke-linejoin="round" stroke-linecap="round" />
<clipPath id="c38"><path d="M1165.7,1049.2 C1168.2,1048.4 1172.0,1046.7 1176.7,1047.4 C1181.4,1048.1 1187.8,1050.7 1194.0,1053.6 C1200.2,1056.5 1208.2,1060.1 1213.7,1064.6 C1219.2,1069.1 1223.6,1074.5 1227.3,1080.7 C1231.0,1086.9 1234.0,1095.0 1235.9,1101.6 C1237.9,1108.2 1239.0,1113.9 1239.0,1120.1 C1239.0,1126.3 1238.1,1130.4 1235.9,1138.6 C1233.7,1146.8 1229.7,1159.1 1226.0,1169.4 C1222.3,1179.7 1217.0,1192.6 1213.7,1200.2 C1210.4,1207.8 1208.8,1211.8 1206.3,1214.9 C1203.8,1218.0 1203.0,1219.0 1198.9,1218.6 C1194.8,1218.2 1188.9,1216.4 1181.7,1212.5 C1174.5,1208.6 1162.8,1201.0 1155.8,1195.2 C1148.8,1189.5 1143.9,1183.8 1139.8,1178.0 C1135.7,1172.2 1132.8,1165.2 1131.2,1160.7 C1129.6,1156.2 1129.3,1156.7 1129.9,1150.9 C1130.5,1145.2 1132.4,1135.5 1134.9,1126.2 C1137.4,1117.0 1141.2,1105.7 1144.7,1095.4 C1148.2,1085.1 1152.9,1071.8 1155.8,1064.6 C1158.7,1057.4 1160.3,1054.9 1162.0,1052.3 C1163.7,1049.7 1163.2,1050.0 1165.7,1049.2 Z"/></clipPath><g clip-path="url(#c38)">
<path d="M1167.2,1056.1 C1169.5,1055.3 1173.0,1053.7 1177.4,1054.4 C1181.7,1055.1 1187.6,1057.5 1193.3,1060.1 C1199.0,1062.7 1206.3,1066.1 1211.4,1070.2 C1216.5,1074.4 1220.5,1079.4 1223.9,1085.0 C1227.3,1090.7 1230.0,1098.2 1231.8,1104.3 C1233.6,1110.3 1234.7,1115.6 1234.7,1121.3 C1234.7,1127.0 1233.8,1130.8 1231.8,1138.3 C1229.8,1145.9 1226.1,1157.2 1222.7,1166.6 C1219.3,1176.1 1214.4,1188.0 1211.4,1195.0 C1208.4,1202.0 1206.9,1205.7 1204.6,1208.5 C1202.3,1211.3 1201.6,1212.3 1197.8,1211.9 C1194.0,1211.5 1188.6,1209.9 1182.0,1206.3 C1175.4,1202.7 1164.6,1195.7 1158.1,1190.4 C1151.7,1185.1 1147.2,1179.8 1143.4,1174.6 C1139.6,1169.3 1137.0,1162.8 1135.5,1158.6 C1134.0,1154.5 1133.7,1154.9 1134.3,1149.6 C1134.9,1144.3 1136.6,1135.4 1138.9,1126.9 C1141.2,1118.4 1144.7,1108.0 1147.9,1098.6 C1151.1,1089.1 1155.5,1076.8 1158.1,1070.2 C1160.8,1063.6 1162.3,1061.3 1163.8,1058.9 C1165.4,1056.6 1165.0,1056.8 1167.2,1056.1 Z" stroke="#111" stroke-width="1.5" fill="none" stroke-linejoin="round" stroke-linecap="round" />
<path d="M1174.3,1070.8 C1177.0,1069.6 1189.9,1068.6 1194.0,1069.6 C1198.1,1070.6 1197.1,1075.4 1198.9,1077.0 C1200.8,1078.6 1202.2,1076.3 1205.1,1079.4 C1208.0,1082.5 1214.0,1089.7 1216.2,1095.4 C1218.5,1101.2 1218.8,1108.8 1218.6,1113.9 C1218.4,1119.0 1217.4,1123.7 1214.9,1126.2 C1212.4,1128.7 1207.3,1129.9 1203.8,1128.7 C1200.3,1127.5 1196.9,1122.9 1194.0,1118.8 C1191.1,1114.7 1188.4,1109.8 1186.6,1104.1 C1184.8,1098.4 1184.3,1088.9 1182.9,1084.4 C1181.5,1079.9 1179.4,1079.3 1178.0,1077.0 C1176.6,1074.7 1171.6,1072.0 1174.3,1070.8 Z" stroke="#111" stroke-width="2.2" fill="#fff" stroke-linejoin="round" stroke-linecap="round" />
<path d="M1186,1080 Q1192,1110 1203,1127" stroke="#111" stroke-width="1.4" fill="none" stroke-linejoin="round" stroke-linecap="round" />
<path d="M1186.6,1126.2 Q1190,1135 1194,1133.6 Q1198,1129 1201.4,1131.2 Q1203,1140 1206.3,1138.6 L1213.7,1138.6" stroke="#111" stroke-width="1.7" fill="none" stroke-linejoin="round" stroke-linecap="round" />
<path d="M1185.4,1138.6 L1217.4,1154.6 M1184,1142 L1216,1158" stroke="#111" stroke-width="1.6" fill="none" stroke-linejoin="round" stroke-linecap="round" />
<path d="M1164.4,1154.6 L1144.7,1168.1 M1180.4,1171.8 L1170.6,1191.5 M1194,1184.1 L1194,1198.9 M1205,1172 L1215,1190" stroke="#111" stroke-width="1.5" fill="none" stroke-linejoin="round" stroke-linecap="round" />
<path d="M1165.7,1150.9 Q1170,1168 1185,1174 Q1200,1176 1215,1165" stroke="#111" stroke-width="1.5" fill="none" stroke-linejoin="round" stroke-linecap="round" />
<path d="M1134.9,1165.7 Q1150,1185 1168.1,1189.1 Q1188,1200 1210,1196" stroke="#111" stroke-width="1.5" fill="none" stroke-linejoin="round" stroke-linecap="round" />
<path d="M1141,1148.4 L1159.5,1146 M1150,1085 L1160,1088 M1160,1075 Q1170,1110 1168,1150" stroke="#111" stroke-width="1.4" fill="none" stroke-linejoin="round" stroke-linecap="round" />
<path d="M1174,1076 L1180,1074 L1182,1086 L1176,1088 Z" stroke="#111" stroke-width="1.4" fill="#555" stroke-linejoin="round" stroke-linecap="round" />
<path d="M1222,1105 L1226,1118 M1225,1090 L1232,1100" stroke="#111" stroke-width="1.7" fill="none" stroke-linejoin="round" stroke-linecap="round" />
</g>
<path d="M1176.7,1047.4 L1194,1053.6 L1213.7,1064.6 L1227.3,1080.7 L1235.9,1101.6 L1239,1120.1 L1235.9,1138.6 L1226,1169.4 L1213.7,1200.2 L1206.3,1214.9" stroke="#111" stroke-width="3.7" fill="none" stroke-linejoin="round" stroke-linecap="round" />
<line x1="1194" y1="1218" x2="1194" y2="1246" stroke="#333" stroke-width="1.4"/>
<path d="M1096,1129 L1114,1119" stroke="#111" stroke-width="7.5" fill="none" stroke-linejoin="round" stroke-linecap="round" />
<path d="M1096,1129 L1114,1119" stroke="#666" stroke-width="4" fill="none" stroke-linejoin="round" stroke-linecap="round" stroke-dasharray="1.4 1.4"/>
<path d="M1086,1129 L1090,1123 L1097,1122 L1101,1128 L1098,1136 L1090,1138 Z" stroke="#111" stroke-width="2.1" fill="#555" stroke-linejoin="round" stroke-linecap="round" />
<ellipse cx="1093" cy="1130" rx="4" ry="5" stroke="#111" stroke-width="1.7" fill="#888" transform="rotate(-30 1093 1130)"/>
<path d="M1091,1128 L1095,1132" stroke="#111" stroke-width="1.4" fill="none" stroke-linejoin="round" stroke-linecap="round" />
<line x1="1058" y1="1130" x2="1083" y2="1130" stroke="#333" stroke-width="1.4"/>
<path d="M540.2,1239.4 L696.1,1239.4 L708.8,1252.1 L708.8,1270.2 L696.1,1283.4 L540.2,1283.4 Z" stroke="#111" stroke-width="2.2" fill="#fff" stroke-linejoin="round" stroke-linecap="round" />
<rect x="530.6" y="1238.3" width="9.6" height="46.2" rx="1.5" fill="#fff" stroke="#111" stroke-width="1.9"/>
<path d="M676,1239.4 A8,22 0 0,0 676,1283.4 M688,1239.4 A8,22 0 0,0 688,1283.4" stroke="#111" stroke-width="1.3" fill="none" stroke-linejoin="round" stroke-linecap="round" />
<path d="M706,1252 A4,9.5 0 0,0 706,1271" stroke="#111" stroke-width="1.3" fill="none" stroke-linejoin="round" stroke-linecap="round" />
<path d="M709,1253 L712,1253 M709,1257 L712,1257 M709,1261 L712,1261 M709,1265 L712,1265 M709,1269 L712,1269" stroke="#111" stroke-width="1.1" fill="none" stroke-linejoin="round" stroke-linecap="round" />
<ellipse cx="720.3" cy="1261.1" rx="9.3" ry="14.8" stroke="#111" stroke-width="2.2" fill="#fff"/>
<line x1="630" y1="1209.2" x2="630" y2="1234.6" stroke="#333" stroke-width="1.6"/>
<path d="M913.8,1204.7 L921,1194.6 L932.6,1187.4 L939.8,1193.1 L942.7,1201.8 L941.3,1242.3 L944,1250 L951.4,1251 L954.3,1213.4 L963,1205.4 L970.2,1209.1 L977.4,1225 L978.9,1236.5 L1020.8,1217.7 L1084.5,1183 L1088.8,1187.4 L1094.6,1194.6 L1093.2,1198.9 L1112,1202.5 L1120.6,1204.7 L1120.6,1209.1 L1042.5,1251 L1025.2,1265.5 L996.2,1297.3 L981.8,1323.3 L970.2,1333.5 L958.6,1340.7 L932.6,1326.2 L918.1,1306 L913.8,1291.5 L913.1,1213.4 Z" stroke="#111" stroke-width="2.5" fill="#fff" stroke-linejoin="round"/>
<path d="M928.2,1201.8 Q934,1192 940,1198 M928.2,1201.8 L929.7,1282.8 Q935,1297 949.9,1297.3 L951.4,1251 M933,1204 L934,1280 Q938,1291 950,1291" stroke="#111" stroke-width="1.6" fill="none" stroke-linejoin="round" stroke-linecap="round" />
<path d="M913.8,1222 L928,1228 M913.8,1291.5 L965.8,1317.5 L967,1333 M965.8,1317.5 L970,1320" stroke="#111" stroke-width="1.6" fill="none" stroke-linejoin="round" stroke-linecap="round" />
<path d="M954.3,1213.4 L963,1220 L967.3,1246.7 L967.3,1320.4 M963,1220 L978,1236 M970,1246 L970,1320" stroke="#111" stroke-width="1.6" fill="none" stroke-linejoin="round" stroke-linecap="round" />
<ellipse cx="987.5" cy="1294.4" rx="5" ry="5.5" stroke="#111" stroke-width="2.1" fill="#fff"/>
<ellipse cx="987.5" cy="1294.4" rx="2.5" ry="3" stroke="#111" stroke-width="1.1" fill="#555"/>
<path d="M978.9,1236.5 L1084.5,1183 M982,1241 L1088,1190 M979,1256 L1032,1232 L1090,1199" stroke="#111" stroke-width="1.5" fill="none" stroke-linejoin="round" stroke-linecap="round" />
<path d="M984,1243 L1085,1187 M986,1245 L1087,1189 M988,1247 L1089,1191" stroke="#444" stroke-width="0.9" fill="none" stroke-linejoin="round" stroke-linecap="round" />
<path d="M1052,1229 Q1047,1222 1056,1217 L1110,1205 Q1117,1206 1112,1211 L1058,1231 Q1054,1232 1052,1229 Z" stroke="#111" stroke-width="1.8" fill="#fff" stroke-linejoin="round" stroke-linecap="round" />
<path d="M1058,1228 L1110,1209 M1060,1230 L1112,1212" stroke="#444" stroke-width="0.9" fill="none" stroke-linejoin="round" stroke-linecap="round" />
<path d="M1005,1260 L1000,1255 L1012,1248 L1025,1245 L1030,1252 L1020,1268 L1008,1270 Z" stroke="#111" stroke-width="1.6" fill="#fff" stroke-linejoin="round" stroke-linecap="round" />
<path d="M1010,1248 L1035,1238 L1048,1240 L1040,1252 L1025,1258" stroke="#111" stroke-width="1.6" fill="none" stroke-linejoin="round" stroke-linecap="round" />
<path d="M996,1297 L1000,1270 L1010,1265 M1015,1265 L1015,1290 M1020,1262 L1020,1285" stroke="#111" stroke-width="1.4" fill="none" stroke-linejoin="round" stroke-linecap="round" />
<path d="M1036,1236 L1036,1245 M1040,1234 L1040,1243" stroke="#111" stroke-width="1.1" fill="none" stroke-linejoin="round" stroke-linecap="round" />
<line x1="884.8" y1="1250.6" x2="908" y2="1250.6" stroke="#333" stroke-width="1.6"/>
<path d="M1777.7,884 L1777.7,898 A24,12 0 0,0 1825.7,898 L1825.7,884 Z" fill="#fff" stroke="#111" stroke-width="2.3"/>
<ellipse cx="1801.7" cy="884" rx="24" ry="12" stroke="#111" stroke-width="2.3" fill="#fff"/>
<ellipse cx="1801.7" cy="884" rx="20" ry="9.5" stroke="#111" stroke-width="1.4" fill="none"/>
<ellipse cx="1801.7" cy="884" rx="12" ry="6" stroke="#111" stroke-width="3" fill="#fff"/>
<ellipse cx="1801.7" cy="884" rx="7" ry="3.5" stroke="#111" stroke-width="1.7" fill="#fff"/>
<path d="M1777.7,880 Q1774,895 1779,902" stroke="#111" stroke-width="3.4" fill="none" stroke-linejoin="round" stroke-linecap="round" />
<line x1="1828.3" y1="892.3" x2="1853.3" y2="892.3" stroke="#333" stroke-width="1.4"/>
<path d="M1788.4,947 L1788.4,951 A13.3,7 0 0,0 1815,951 L1815,947 Z" fill="#fff" stroke="#111" stroke-width="2.1"/>
<ellipse cx="1801.7" cy="947" rx="13.3" ry="7" stroke="#111" stroke-width="2.1" fill="#fff"/>
<ellipse cx="1801.7" cy="947" rx="5" ry="3" stroke="#111" stroke-width="1.5" fill="#fff"/>
<line x1="1818.3" y1="949.3" x2="1843.3" y2="949.3" stroke="#333" stroke-width="1.4"/>
<line x1="1801.7" y1="961.7" x2="1801.7" y2="986.7" stroke="#333" stroke-width="1.4"/>
<rect x="1798.1" y="987" width="7.2" height="21" rx="1.5" fill="#555" stroke="#111" stroke-width="1.4"/>
<line x1="1798.6" y1="990" x2="1804.8" y2="991" stroke="#222" stroke-width="0.9"/>
<line x1="1798.6" y1="993" x2="1804.8" y2="994" stroke="#222" stroke-width="0.9"/>
<line x1="1798.6" y1="996" x2="1804.8" y2="997" stroke="#222" stroke-width="0.9"/>
<line x1="1798.6" y1="999" x2="1804.8" y2="1000" stroke="#222" stroke-width="0.9"/>
<line x1="1798.6" y1="1002" x2="1804.8" y2="1003" stroke="#222" stroke-width="0.9"/>
<line x1="1798.6" y1="1005" x2="1804.8" y2="1006" stroke="#222" stroke-width="0.9"/>
<path d="M1793.2,1008 L1793.2,1017 A8.5,3.4 0 0,0 1810.2,1017 L1810.2,1008 Z" fill="#3a3a3a" stroke="#111" stroke-width="2.1"/>
<ellipse cx="1801.7" cy="1008" rx="8.5" ry="3.4" stroke="#111" stroke-width="1.8" fill="#666"/>
<line x1="1815" y1="1012.7" x2="1841.7" y2="1012.7" stroke="#333" stroke-width="1.4"/>
<path d="M1671.7,968.3 L1720,940 L1746.7,950 L1746.7,956.7 L1698.3,985 L1671.7,973.3 Z" stroke="#111" stroke-width="2.3" fill="#fff" stroke-linejoin="round"/>
<path d="M1671.7,968.3 L1698.3,980 L1746.7,950 M1698.3,980 L1698.3,985" stroke="#111" stroke-width="1.7" fill="none" stroke-linejoin="round" stroke-linecap="round" />
<ellipse cx="1693.3" cy="969.3" rx="3.5" ry="2.2" stroke="#111" stroke-width="1.4" fill="none"/>
<ellipse cx="1725" cy="950" rx="3.5" ry="2.2" stroke="#111" stroke-width="1.4" fill="#444"/>
<line x1="1723.3" y1="976.7" x2="1723.3" y2="1000" stroke="#333" stroke-width="1.4"/>
<path d="M1646.8,1133.2 L1661.6,1123.7 L1661.6,1115.6 L1680.5,1104.8 L1683.2,1107.5 L1684.6,1112.9 L1690,1110.2 L1707.5,1098.1 L1711.6,1106.2 L1729.1,1084.6 L1733.2,1085.9 L1734.5,1094 L1781.8,1061.6 L1807.4,1046.8 L1811.5,1049.5 L1812.1,1079.2 L1869.5,1114.3 L1877.6,1119.7 L1904.6,1103.5 L1908,1107.5 L1906,1127.8 L1899.2,1142.6 L1883,1153.4 L1842.5,1168.3 L1808.8,1176.4 L1792.6,1176.4 L1788.5,1173 L1780.4,1176.4 L1748,1177.7 L1721,1185.8 L1694,1199.3 L1680.5,1204.7 L1671.1,1202 L1657.6,1188.5 L1648.1,1172.3 L1646.8,1148 Z" stroke="#111" stroke-width="2.3" fill="#fff" stroke-linejoin="round"/>
<clipPath id="c61"><path d="M1646.8,1133.2 L1661.6,1123.7 L1661.6,1115.6 L1680.5,1104.8 L1683.2,1107.5 L1684.6,1112.9 L1690,1110.2 L1707.5,1098.1 L1711.6,1106.2 L1729.1,1084.6 L1733.2,1085.9 L1734.5,1094 L1781.8,1061.6 L1807.4,1046.8 L1811.5,1049.5 L1812.1,1079.2 L1869.5,1114.3 L1877.6,1119.7 L1904.6,1103.5 L1908,1107.5 L1906,1127.8 L1899.2,1142.6 L1883,1153.4 L1842.5,1168.3 L1808.8,1176.4 L1792.6,1176.4 L1788.5,1173 L1780.4,1176.4 L1748,1177.7 L1721,1185.8 L1694,1199.3 L1680.5,1204.7 L1671.1,1202 L1657.6,1188.5 L1648.1,1172.3 L1646.8,1148 Z"/></clipPath><g clip-path="url(#c61)">
<path d="M1650.8,1165.6 L1715.6,1134.5 M1654.9,1172.3 L1715.6,1142.6 M1652,1168 L1715,1138" stroke="#111" stroke-width="1.6" fill="none" stroke-linejoin="round" stroke-linecap="round" />
<path d="M1660,1178 L1700,1160 L1700,1200 M1665,1185 L1690,1175 L1692,1195 L1670,1200" stroke="#111" stroke-width="1.5" fill="none" stroke-linejoin="round" stroke-linecap="round" />
<path d="M1671,1116 L1671,1143 L1676.5,1141 L1676.5,1114" stroke="#111" stroke-width="1.7" fill="none" stroke-linejoin="round" stroke-linecap="round" />
<path d="M1646.8,1133.2 L1652,1160 M1661.6,1123.7 L1662,1150" stroke="#111" stroke-width="1.4" fill="none" stroke-linejoin="round" stroke-linecap="round" />
<path d="M1711.6,1106.2 L1716,1140 L1730,1135 L1734.5,1094" stroke="#111" stroke-width="1.5" fill="none" stroke-linejoin="round" stroke-linecap="round" />
<ellipse cx="1731" cy="1120" rx="8" ry="5.5" stroke="#111" stroke-width="1.8" fill="#fff"/>
<ellipse cx="1731" cy="1120" rx="4.5" ry="3" stroke="#111" stroke-width="1.4" fill="#888"/>
<path d="M1720,1130 L1760,1110 L1762,1150 L1728,1160 Z" stroke="#111" stroke-width="1.4" fill="none" stroke-linejoin="round" stroke-linecap="round" />
<path d="M1760,1110 L1760,1145 Q1763,1168 1772,1172" stroke="#111" stroke-width="1.5" fill="none" stroke-linejoin="round" stroke-linecap="round" />
<path d="M1770,1150 Q1775,1118 1805,1116 Q1832,1118 1838,1138 L1835,1143" stroke="#111" stroke-width="2.1" fill="none" stroke-linejoin="round" stroke-linecap="round" />
<path d="M1772,1152 Q1800,1146 1838,1140" stroke="#111" stroke-width="1.7" fill="none" stroke-linejoin="round" stroke-linecap="round" />
<path d="M1780,1138 Q1790,1132 1800,1137 L1797,1145 L1782,1146 Z" stroke="#111" stroke-width="1.5" fill="#555" stroke-linejoin="round" stroke-linecap="round" />
<path d="M1805,1130 Q1815,1128 1820,1136" stroke="#111" stroke-width="1.4" fill="none" stroke-linejoin="round" stroke-linecap="round" />
<line x1="1810" y1="1083" x2="1810" y2="1097" stroke="#111" stroke-width="2.6"/>
<line x1="1829" y1="1093" x2="1829" y2="1107" stroke="#111" stroke-width="2.6"/>
<line x1="1848" y1="1102" x2="1848" y2="1116" stroke="#111" stroke-width="2.6"/>
<line x1="1868" y1="1114" x2="1868" y2="1128" stroke="#111" stroke-width="2.6"/>
<path d="M1812,1079 L1869,1114 M1812,1085 L1866,1118 L1875,1122" stroke="#111" stroke-width="1.5" fill="none" stroke-linejoin="round" stroke-linecap="round" />
<path d="M1755,1075 L1780,1065 L1775,1080 L1755,1090 Z M1850,1140 L1880,1125 L1878,1138 L1850,1150 Z" stroke="#111" stroke-width="1.4" fill="none" stroke-linejoin="round" stroke-linecap="round" />
<path d="M1768,1148 Q1770,1165 1785,1174" stroke="#111" stroke-width="1.4" fill="none" stroke-linejoin="round" stroke-linecap="round" />
<path d="M1842,1140 L1900,1120" stroke="#111" stroke-width="1.3" fill="none" stroke-linejoin="round" stroke-linecap="round" />
</g>
<path d="M1646.8,1133.2 L1661.6,1123.7 L1661.6,1115.6 L1680.5,1104.8 L1683.2,1107.5 L1684.6,1112.9 L1690,1110.2 L1707.5,1098.1 L1711.6,1106.2 L1729.1,1084.6 L1733.2,1085.9 L1734.5,1094 L1781.8,1061.6 L1807.4,1046.8 L1811.5,1049.5 L1812.1,1079.2 L1869.5,1114.3 L1877.6,1119.7 L1904.6,1103.5 L1908,1107.5 L1906,1127.8 L1899.2,1142.6 L1883,1153.4 L1842.5,1168.3 L1808.8,1176.4 L1792.6,1176.4 L1788.5,1173 L1780.4,1176.4 L1748,1177.7 L1721,1185.8 L1694,1199.3 L1680.5,1204.7 L1671.1,1202 L1657.6,1188.5 L1648.1,1172.3 L1646.8,1148 Z" fill="none" stroke="#111" stroke-width="2.1" stroke-linejoin="round"/>
<line x1="1911.7" y1="1126.7" x2="1935" y2="1126.7" stroke="#333" stroke-width="1.4"/>
<rect x="1689.5" y="1235" width="9" height="21" rx="1.5" fill="#555" stroke="#111" stroke-width="1.4"/>
<line x1="1690" y1="1238" x2="1698" y2="1239" stroke="#222" stroke-width="0.9"/>
<line x1="1690" y1="1241" x2="1698" y2="1242" stroke="#222" stroke-width="0.9"/>
<line x1="1690" y1="1244" x2="1698" y2="1245" stroke="#222" stroke-width="0.9"/>
<line x1="1690" y1="1247" x2="1698" y2="1248" stroke="#222" stroke-width="0.9"/>
<line x1="1690" y1="1250" x2="1698" y2="1251" stroke="#222" stroke-width="0.9"/>
<line x1="1690" y1="1253" x2="1698" y2="1254" stroke="#222" stroke-width="0.9"/>
<path d="M1685.5,1256 L1685.5,1266 A8.5,3.4 0 0,0 1702.5,1266 L1702.5,1256 Z" fill="#fff" stroke="#111" stroke-width="2.1"/>
<ellipse cx="1694" cy="1256" rx="8.5" ry="3.4" stroke="#111" stroke-width="1.8" fill="#fff"/>
<rect x="1780.5" y="1210" width="8" height="19" rx="1.5" fill="#555" stroke="#111" stroke-width="1.4"/>
<line x1="1781" y1="1213" x2="1788" y2="1214" stroke="#222" stroke-width="0.9"/>
<line x1="1781" y1="1216" x2="1788" y2="1217" stroke="#222" stroke-width="0.9"/>
<line x1="1781" y1="1219" x2="1788" y2="1220" stroke="#222" stroke-width="0.9"/>
<line x1="1781" y1="1222" x2="1788" y2="1223" stroke="#222" stroke-width="0.9"/>
<line x1="1781" y1="1225" x2="1788" y2="1226" stroke="#222" stroke-width="0.9"/>
<path d="M1776.5,1229 L1776.5,1238 A8,3.2 0 0,0 1792.5,1238 L1792.5,1229 Z" fill="#3a3a3a" stroke="#111" stroke-width="2.1"/>
<ellipse cx="1784.5" cy="1229" rx="8" ry="3.2" stroke="#111" stroke-width="1.8" fill="#666"/>
<line x1="1694" y1="1273.3" x2="1694" y2="1300" stroke="#333" stroke-width="1.4"/>
<line x1="1784" y1="1243.3" x2="1784" y2="1270" stroke="#333" stroke-width="1.4"/>
<line x1="1784" y1="1176.7" x2="1784" y2="1208.3" stroke="#333" stroke-width="1.4"/>
<path d="M697.5,883.6 L701.3,879 L731.1,863.1 L736.7,864 L749.8,871.5 L751.6,875.2 L751.6,906.9 L721.8,918.1 L719,919.1 L699.4,908.8 L696.6,903.2 Z" stroke="#111" stroke-width="2.3" fill="#fff" stroke-linejoin="round"/>
<path d="M701.3,879 L716,886 L721.8,888.3 L751.6,875.2 M721.8,888.3 L721.8,918.1" stroke="#111" stroke-width="1.8" fill="none" stroke-linejoin="round" stroke-linecap="round" />
<path d="M722,900 L751,888" stroke="#111" stroke-width="1.5" fill="none" stroke-linejoin="round" stroke-linecap="round" />
<ellipse cx="709" cy="899" rx="10" ry="14" stroke="#111" stroke-width="2.1" fill="none" transform="rotate(-20 709 899)"/>
<ellipse cx="710" cy="899" rx="6.5" ry="10" stroke="#111" stroke-width="1.5" fill="none" transform="rotate(-20 710 899)"/>
<path d="M726,872 Q722,866 730,866 Q738,868 734,874 Q730,878 727,874" stroke="#111" stroke-width="1.5" fill="none" stroke-linejoin="round" stroke-linecap="round" />
<path d="M729,828 L735,818 L752,827 L746,838 Z" stroke="#111" stroke-width="2.2" fill="#fff" stroke-linejoin="round" stroke-linecap="round" />
<ellipse cx="748.5" cy="832.5" rx="4.2" ry="6.2" stroke="#111" stroke-width="2.2" fill="#fff" transform="rotate(30 748.5 832.5)"/>
<ellipse cx="732" cy="823" rx="4.2" ry="6.2" stroke="#111" stroke-width="2.2" fill="#fff" transform="rotate(30 732 823)"/>
<path d="M729,828 L746,838 M735,818 L752,827" stroke="#111" stroke-width="2.2" fill="none" stroke-linejoin="round" stroke-linecap="round" />
<line x1="752.6" y1="837" x2="768.4" y2="846.3" stroke="#333" stroke-width="1.2"/>
<path d="M976,355 L976,545" stroke="#777" stroke-width="2.0" fill="none" stroke-dasharray="49 4.5 4 4.5" stroke-dashoffset="5"/>
<path d="M976,560 L976,612" stroke="#777" stroke-width="2.0" fill="none" stroke-dasharray="49 4.5 4 4.5" stroke-dashoffset="14"/>
<path d="M976,660 L976,764" stroke="#777" stroke-width="2.0" fill="none" stroke-dasharray="49 4.5 4 4.5" stroke-dashoffset="32"/>
<path d="M976,792.7 L976,892.8" stroke="#777" stroke-width="2.0" fill="none" stroke-dasharray="49 4.5 4 4.5" stroke-dashoffset="30.900000000000546"/>
<path d="M976,938.2 L976,1034.8" stroke="#777" stroke-width="2.0" fill="none" stroke-dasharray="49 4.5 4 4.5" stroke-dashoffset="57.400000000000546"/>
<path d="M976,1063.8 L976,1085" stroke="#777" stroke-width="2.0" fill="none" stroke-dasharray="49 4.5 4 4.5" stroke-dashoffset="6.599999999999454"/>
<path d="M955.4,712.8 L955.4,754.3" stroke="#777" stroke-width="2.0" fill="none" stroke-dasharray="49 4.5 4 4.5" stroke-dashoffset="29.599999999999454"/>
<path d="M955.4,792.7 L955.4,888.9" stroke="#777" stroke-width="2.0" fill="none" stroke-dasharray="49 4.5 4 4.5" stroke-dashoffset="30.900000000000546"/>
<path d="M955.4,939 L955.4,1031" stroke="#777" stroke-width="2.0" fill="none" stroke-dasharray="49 4.5 4 4.5" stroke-dashoffset="1"/>
<path d="M955.4,1067.6 L955.4,1123.8" stroke="#777" stroke-width="2.0" fill="none" stroke-dasharray="49 4.5 4 4.5" stroke-dashoffset="33.19999999999891"/>
<path d="M1801.8,134 L1801.8,189" stroke="#777" stroke-width="2.0" fill="none" stroke-dasharray="49 4.5 4 4.5" stroke-dashoffset="8"/>
<path d="M1801.8,268 L1801.8,392" stroke="#777" stroke-width="2.0" fill="none" stroke-dasharray="49 4.5 4 4.5" stroke-dashoffset="16"/>
<line x1="1801.8" y1="455" x2="1801.8" y2="481" stroke="#666" stroke-width="1.8"/>
<line x1="1801.8" y1="509" x2="1801.8" y2="540" stroke="#666" stroke-width="1.8"/>
<line x1="1801.8" y1="588" x2="1801.8" y2="618" stroke="#666" stroke-width="1.8"/>
<line x1="1801.8" y1="655" x2="1801.8" y2="800" stroke="#666" stroke-width="1.8"/>
<line x1="1801.8" y1="852" x2="1801.8" y2="873" stroke="#666" stroke-width="1.8"/>
<line x1="1801.8" y1="913" x2="1801.8" y2="941" stroke="#666" stroke-width="1.8"/>
<path d="M1781.5,173 L1781.5,303" stroke="#777" stroke-width="2.0" fill="none" stroke-dasharray="49 4.5 4 4.5" stroke-dashoffset="33"/>
<line x1="1781.5" y1="345" x2="1781.5" y2="395" stroke="#666" stroke-width="1.8"/>
<path d="M1872,596 L1872,777" stroke="#777" stroke-width="2.0" fill="none" stroke-dasharray="49 4.5 4 4.5" stroke-dashoffset="18"/>
<line x1="1885.4" y1="594" x2="1885.4" y2="768" stroke="#555" stroke-width="1.6"/>
<path d="M1950.6,584.6 L1903.7,611 L1903.7,757" stroke="#666" stroke-width="1.8" fill="none" stroke-dasharray="49 4.5 4 4.5" stroke-dashoffset="0"/>
<path d="M1694,876 L1694,966" stroke="#777" stroke-width="2.0" fill="none" stroke-dasharray="49 4.5 4 4.5" stroke-dashoffset="56"/>
<path d="M1694,986 L1694,1180" stroke="#777" stroke-width="2.0" fill="none" stroke-dasharray="49 4.5 4 4.5" stroke-dashoffset="20"/>
<line x1="1694" y1="1208" x2="1694" y2="1233" stroke="#555" stroke-width="1.6"/>
<line x1="1784.5" y1="847" x2="1784.5" y2="953" stroke="#555" stroke-width="1.6"/>
<path d="M1784.5,956 L1784.5,1180" stroke="#777" stroke-width="2.0" fill="none" stroke-dasharray="49 4.5 4 4.5" stroke-dashoffset="58"/>
<path d="M1350,1021.4 L1262,1072.2" stroke="#444" stroke-width="1.6" fill="none" stroke-dasharray="49 4.5 4 4.5" stroke-dashoffset="0"/>
<path d="M1236.7,1086.8 L1020,1211.9" stroke="#444" stroke-width="1.6" fill="none" stroke-dasharray="49 4.5 4 4.5" stroke-dashoffset="0"/>
<line x1="1115" y1="1118.3" x2="1163.3" y2="1091.7" stroke="#333" stroke-width="1.4"/>
<line x1="1213.3" y1="1061.7" x2="1233.3" y2="1050" stroke="#333" stroke-width="1.4"/>
<text x="157.2" y="93" font-family='"Liberation Sans", sans-serif' font-weight="normal" font-size="21" textLength="136.2" lengthAdjust="spacingAndGlyphs" fill="#222">3 601 FC7 000</text>
<text x="155.1" y="122.3" font-family='"Liberation Sans", sans-serif' font-weight="normal" font-size="21" textLength="54.9" lengthAdjust="spacingAndGlyphs" fill="#222">Stand</text>
<text x="154.1" y="144" font-family='"Liberation Sans", sans-serif' font-weight="normal" font-size="21" textLength="50.2" lengthAdjust="spacingAndGlyphs" fill="#222">Issue</text>
<text x="230.5" y="122.3" font-family='"Liberation Sans", sans-serif' font-weight="normal" font-size="21" textLength="52.6" lengthAdjust="spacingAndGlyphs" fill="#222">25-02</text>
<text x="232.9" y="144" font-family='"Liberation Sans", sans-serif' font-weight="normal" font-size="21" textLength="85.7" lengthAdjust="spacingAndGlyphs" fill="#222">25-07-30</text>
<path d="M231,113 Q260,108 288,104" stroke="#222" stroke-width="1.5" fill="none" stroke-linejoin="round" stroke-linecap="round" />
<path d="M232,125 Q262,118 289,124" stroke="#222" stroke-width="1.5" fill="none" stroke-linejoin="round" stroke-linecap="round" />
<path d="M212,104 Q218,104 218,110 L218,119 Q218,124 223,125 Q218,126 218,131 L218,141 Q218,146 212,146" stroke="#222" stroke-width="2.3" fill="none" stroke-linejoin="round" stroke-linecap="round" />
<rect x="341" y="105" width="163" height="36" fill="#111"/>
<text x="345" y="130.5" font-family='"Liberation Sans", sans-serif' font-weight="bold" font-size="30" textLength="155.2" lengthAdjust="spacingAndGlyphs" fill="#fff">Fig. /Abb. 2</text>
<text x="159.5" y="1294.7" font-family='"Liberation Sans", sans-serif' font-weight="normal" font-size="20.8" textLength="230.6" lengthAdjust="spacingAndGlyphs" fill="#222">Änderungen vorbehalten</text>
<text x="157.8" y="1319.8" font-family='"Liberation Sans", sans-serif' font-weight="normal" font-size="20.8" textLength="210.6" lengthAdjust="spacingAndGlyphs" fill="#222">Modifications reserved</text>
<text x="157.8" y="1344.9" font-family='"Liberation Sans", sans-serif' font-weight="normal" font-size="20.8" textLength="221.1" lengthAdjust="spacingAndGlyphs" fill="#222">Modifications réservées</text>
<text x="158.6" y="1370" font-family='"Liberation Sans", sans-serif' font-weight="normal" font-size="20.8" textLength="197.7" lengthAdjust="spacingAndGlyphs" fill="#222">Salvo modificaciones</text>
<text x="1085.6" y="127.7" font-family='"Liberation Sans", sans-serif' font-weight="bold" font-size="22.8" textLength="25.6" lengthAdjust="spacingAndGlyphs" fill="#111">64</text>
<text x="910.8" y="222.9" font-family='"Liberation Sans", sans-serif' font-weight="bold" font-size="22.8" textLength="25.6" lengthAdjust="spacingAndGlyphs" fill="#111">59</text>
<text x="1117.1" y="221.1" font-family='"Liberation Sans", sans-serif' font-weight="bold" font-size="22.8" textLength="25.6" lengthAdjust="spacingAndGlyphs" fill="#111">52</text>
<text x="1109.4" y="242.7" font-family='"Liberation Sans", sans-serif' font-weight="bold" font-size="22.8" textLength="41" lengthAdjust="spacingAndGlyphs" fill="#111">(x7)</text>
<text x="813.5" y="437.9" font-family='"Liberation Sans", sans-serif' font-weight="bold" font-size="22.8" textLength="44.8" lengthAdjust="spacingAndGlyphs" fill="#111">59/1</text>
<text x="807.1" y="472.9" font-family='"Liberation Sans", sans-serif' font-weight="bold" font-size="22.8" textLength="44.8" lengthAdjust="spacingAndGlyphs" fill="#111">33/1</text>
<text x="809.5" y="494.4" font-family='"Liberation Sans", sans-serif' font-weight="bold" font-size="22.8" textLength="41" lengthAdjust="spacingAndGlyphs" fill="#111">(x2)</text>
<text x="762.8" y="527.9" font-family='"Liberation Sans", sans-serif' font-weight="bold" font-size="22.8" textLength="44.8" lengthAdjust="spacingAndGlyphs" fill="#111">33/2</text>
<text x="1099.2" y="512.9" font-family='"Liberation Sans", sans-serif' font-weight="bold" font-size="22.8" textLength="25.6" lengthAdjust="spacingAndGlyphs" fill="#111">51</text>
<text x="1092" y="533.4" font-family='"Liberation Sans", sans-serif' font-weight="bold" font-size="22.8" textLength="41" lengthAdjust="spacingAndGlyphs" fill="#111">(x2)</text>
<text x="1101.2" y="606.9" font-family='"Liberation Sans", sans-serif' font-weight="bold" font-size="22.8" textLength="25.6" lengthAdjust="spacingAndGlyphs" fill="#111">31</text>
<text x="885.5" y="699.4" font-family='"Liberation Sans", sans-serif' font-weight="bold" font-size="22.8" textLength="25.6" lengthAdjust="spacingAndGlyphs" fill="#111">28</text>
<text x="1644.7" y="315.9" font-family='"Liberation Sans", sans-serif' font-weight="bold" font-size="22.8" textLength="38.4" lengthAdjust="spacingAndGlyphs" fill="#111">820</text>
<text x="1720.2" y="502.9" font-family='"Liberation Sans", sans-serif' font-weight="bold" font-size="22.8" textLength="25.6" lengthAdjust="spacingAndGlyphs" fill="#111">34</text>
<text x="1908.4" y="514.6" font-family='"Liberation Sans", sans-serif' font-weight="bold" font-size="22.8" textLength="44.8" lengthAdjust="spacingAndGlyphs" fill="#111">30/1</text>
<text x="1909" y="535.4" font-family='"Liberation Sans", sans-serif' font-weight="bold" font-size="22.8" textLength="41" lengthAdjust="spacingAndGlyphs" fill="#111">(x2)</text>
<text x="1713.9" y="570.9" font-family='"Liberation Sans", sans-serif' font-weight="bold" font-size="22.8" textLength="25.6" lengthAdjust="spacingAndGlyphs" fill="#111">13</text>
<text x="1714.2" y="641.9" font-family='"Liberation Sans", sans-serif' font-weight="bold" font-size="22.8" textLength="25.6" lengthAdjust="spacingAndGlyphs" fill="#111">70</text>
<text x="1463.7" y="743.1" font-family='"Liberation Sans", sans-serif' font-weight="bold" font-size="22.8" textLength="44.8" lengthAdjust="spacingAndGlyphs" fill="#111">22/1</text>
<text x="1595.3" y="757.9" font-family='"Liberation Sans", sans-serif' font-weight="bold" font-size="22.8" textLength="25.6" lengthAdjust="spacingAndGlyphs" fill="#111">62</text>
<text x="1587.3" y="779.4" font-family='"Liberation Sans", sans-serif' font-weight="bold" font-size="22.8" textLength="41" lengthAdjust="spacingAndGlyphs" fill="#111">(x4)</text>
<text x="1955.9" y="797.9" font-family='"Liberation Sans", sans-serif' font-weight="bold" font-size="22.8" textLength="25.6" lengthAdjust="spacingAndGlyphs" fill="#111">24</text>
<text x="816" y="773.6" font-family='"Liberation Sans", sans-serif' font-weight="bold" font-size="22.8" textLength="25.6" lengthAdjust="spacingAndGlyphs" fill="#111">32</text>
<text x="720.6" y="790.9" font-family='"Liberation Sans", sans-serif' font-weight="bold" font-size="22.8" textLength="44.8" lengthAdjust="spacingAndGlyphs" fill="#111">43/8</text>
<text x="464.7" y="834.9" font-family='"Liberation Sans", sans-serif' font-weight="bold" font-size="22.8" textLength="38.4" lengthAdjust="spacingAndGlyphs" fill="#111">840</text>
<text x="609" y="854.9" font-family='"Liberation Sans", sans-serif' font-weight="bold" font-size="22.8" textLength="38.4" lengthAdjust="spacingAndGlyphs" fill="#111">830</text>
<text x="688.5" y="846.6" font-family='"Liberation Sans", sans-serif' font-weight="bold" font-size="22.8" textLength="25.6" lengthAdjust="spacingAndGlyphs" fill="#111">33</text>
<text x="1103.9" y="880.9" font-family='"Liberation Sans", sans-serif' font-weight="bold" font-size="22.8" textLength="25.6" lengthAdjust="spacingAndGlyphs" fill="#111">30</text>
<text x="1857.3" y="900.9" font-family='"Liberation Sans", sans-serif' font-weight="bold" font-size="22.8" textLength="25.6" lengthAdjust="spacingAndGlyphs" fill="#111">27</text>
<text x="796.7" y="934.9" font-family='"Liberation Sans", sans-serif' font-weight="bold" font-size="22.8" textLength="44.8" lengthAdjust="spacingAndGlyphs" fill="#111">43/9</text>
<text x="529.7" y="921.1" font-family='"Liberation Sans", sans-serif' font-weight="bold" font-size="22.8" textLength="44.8" lengthAdjust="spacingAndGlyphs" fill="#111">32/3</text>
<text x="1846" y="957.1" font-family='"Liberation Sans", sans-serif' font-weight="bold" font-size="22.8" textLength="44.8" lengthAdjust="spacingAndGlyphs" fill="#111">59/2</text>
<text x="484.9" y="966.1" font-family='"Liberation Sans", sans-serif' font-weight="bold" font-size="22.8" textLength="44.8" lengthAdjust="spacingAndGlyphs" fill="#111">43/7</text>
<text x="439.8" y="989.9" font-family='"Liberation Sans", sans-serif' font-weight="bold" font-size="22.8" textLength="44.8" lengthAdjust="spacingAndGlyphs" fill="#111">43/6</text>
<text x="389.7" y="1012.9" font-family='"Liberation Sans", sans-serif' font-weight="bold" font-size="22.8" textLength="44.8" lengthAdjust="spacingAndGlyphs" fill="#111">43/5</text>
<text x="847.8" y="1011.9" font-family='"Liberation Sans", sans-serif' font-weight="bold" font-size="22.8" textLength="25.6" lengthAdjust="spacingAndGlyphs" fill="#111">67</text>
<text x="1711" y="1022.9" font-family='"Liberation Sans", sans-serif' font-weight="bold" font-size="22.8" textLength="25.6" lengthAdjust="spacingAndGlyphs" fill="#111">40</text>
<text x="1841.9" y="1019.9" font-family='"Liberation Sans", sans-serif' font-weight="bold" font-size="22.8" textLength="25.6" lengthAdjust="spacingAndGlyphs" fill="#111">49</text>
<text x="334.5" y="1053.9" font-family='"Liberation Sans", sans-serif' font-weight="bold" font-size="22.8" textLength="44.8" lengthAdjust="spacingAndGlyphs" fill="#111">43/4</text>
<text x="273.8" y="1087.1" font-family='"Liberation Sans", sans-serif' font-weight="bold" font-size="22.8" textLength="44.8" lengthAdjust="spacingAndGlyphs" fill="#111">43/3</text>
<text x="1504.3" y="1105.9" font-family='"Liberation Sans", sans-serif' font-weight="bold" font-size="22.8" textLength="25.6" lengthAdjust="spacingAndGlyphs" fill="#111">22</text>
<text x="216.4" y="1111.1" font-family='"Liberation Sans", sans-serif' font-weight="bold" font-size="22.8" textLength="44.8" lengthAdjust="spacingAndGlyphs" fill="#111">43/2</text>
<text x="1937.6" y="1135.4" font-family='"Liberation Sans", sans-serif' font-weight="bold" font-size="22.8" textLength="25.6" lengthAdjust="spacingAndGlyphs" fill="#111">61</text>
<text x="1027.8" y="1137.9" font-family='"Liberation Sans", sans-serif' font-weight="bold" font-size="22.8" textLength="25.6" lengthAdjust="spacingAndGlyphs" fill="#111">57</text>
<text x="1020.5" y="1158.4" font-family='"Liberation Sans", sans-serif' font-weight="bold" font-size="22.8" textLength="41" lengthAdjust="spacingAndGlyphs" fill="#111">(x2)</text>
<text x="164.7" y="1150.1" font-family='"Liberation Sans", sans-serif' font-weight="bold" font-size="22.8" textLength="44.8" lengthAdjust="spacingAndGlyphs" fill="#111">43/1</text>
<text x="610.3" y="1203.1" font-family='"Liberation Sans", sans-serif' font-weight="bold" font-size="22.8" textLength="38.4" lengthAdjust="spacingAndGlyphs" fill="#111">895</text>
<text x="855.8" y="1258.4" font-family='"Liberation Sans", sans-serif' font-weight="bold" font-size="22.8" textLength="25.6" lengthAdjust="spacingAndGlyphs" fill="#111">39</text>
<text x="1188.8" y="1269.6" font-family='"Liberation Sans", sans-serif' font-weight="bold" font-size="22.8" textLength="25.6" lengthAdjust="spacingAndGlyphs" fill="#111">38</text>
<text x="1771.8" y="1291.9" font-family='"Liberation Sans", sans-serif' font-weight="bold" font-size="22.8" textLength="25.6" lengthAdjust="spacingAndGlyphs" fill="#111">52</text>
<text x="1764.5" y="1311.4" font-family='"Liberation Sans", sans-serif' font-weight="bold" font-size="22.8" textLength="41" lengthAdjust="spacingAndGlyphs" fill="#111">(x2)</text>
<text x="1680.7" y="1320.9" font-family='"Liberation Sans", sans-serif' font-weight="bold" font-size="22.8" textLength="25.6" lengthAdjust="spacingAndGlyphs" fill="#111">58</text>
<text x="1673.3" y="1340.4" font-family='"Liberation Sans", sans-serif' font-weight="bold" font-size="22.8" textLength="41" lengthAdjust="spacingAndGlyphs" fill="#111">(x2)</text>
<circle cx="1079.1" cy="353.4" r="15.5" stroke="#222" stroke-width="1.8" fill="#fff"/>
<text x="1071.2" y="361.7" font-family='"Liberation Sans", sans-serif' font-weight="bold" font-size="24" textLength="15.6" lengthAdjust="spacingAndGlyphs" fill="#111">C</text>
<circle cx="816.5" cy="400" r="15.5" stroke="#222" stroke-width="1.8" fill="#fff"/>
<text x="809.6" y="408.3" font-family='"Liberation Sans", sans-serif' font-weight="bold" font-size="24" textLength="13.2" lengthAdjust="spacingAndGlyphs" fill="#111">F</text>
<circle cx="892.5" cy="597.5" r="15.5" stroke="#222" stroke-width="1.8" fill="#fff"/>
<text x="885" y="605.8" font-family='"Liberation Sans", sans-serif' font-weight="bold" font-size="24" textLength="14.4" lengthAdjust="spacingAndGlyphs" fill="#111">E</text>
<circle cx="1059.5" cy="661.5" r="15.5" stroke="#222" stroke-width="1.8" fill="#fff"/>
<text x="1051.5" y="669.8" font-family='"Liberation Sans", sans-serif' font-weight="bold" font-size="24" textLength="15.6" lengthAdjust="spacingAndGlyphs" fill="#111">D</text>
<circle cx="1885.5" cy="580" r="15.5" stroke="#222" stroke-width="1.8" fill="#fff"/>
<text x="1877.5" y="588.3" font-family='"Liberation Sans", sans-serif' font-weight="bold" font-size="24" textLength="15.6" lengthAdjust="spacingAndGlyphs" fill="#111">D</text>
<circle cx="1965.5" cy="576" r="15.5" stroke="#222" stroke-width="1.8" fill="#fff"/>
<text x="1957.6" y="584.3" font-family='"Liberation Sans", sans-serif' font-weight="bold" font-size="24" textLength="15.6" lengthAdjust="spacingAndGlyphs" fill="#111">C</text>
<circle cx="1718" cy="698.5" r="15.5" stroke="#222" stroke-width="1.8" fill="#fff"/>
<text x="1710.5" y="706.8" font-family='"Liberation Sans", sans-serif' font-weight="bold" font-size="24" textLength="14.4" lengthAdjust="spacingAndGlyphs" fill="#111">E</text>
<circle cx="1990.5" cy="716.5" r="15.5" stroke="#222" stroke-width="1.8" fill="#fff"/>
<text x="1982.7" y="724.8" font-family='"Liberation Sans", sans-serif' font-weight="bold" font-size="24" textLength="15.6" lengthAdjust="spacingAndGlyphs" fill="#111">A</text>
<circle cx="1247" cy="1041.5" r="15.5" stroke="#222" stroke-width="1.8" fill="#fff"/>
<text x="1240.1" y="1049.8" font-family='"Liberation Sans", sans-serif' font-weight="bold" font-size="24" textLength="13.2" lengthAdjust="spacingAndGlyphs" fill="#111">F</text>
<path d="M188.5,1125 L188.5,1067.1 L860.8,679 L860.8,929.3 L849.6,929.3" stroke="#111" stroke-width="2.8" fill="none" stroke-linejoin="round"/>
</svg></body></html>
